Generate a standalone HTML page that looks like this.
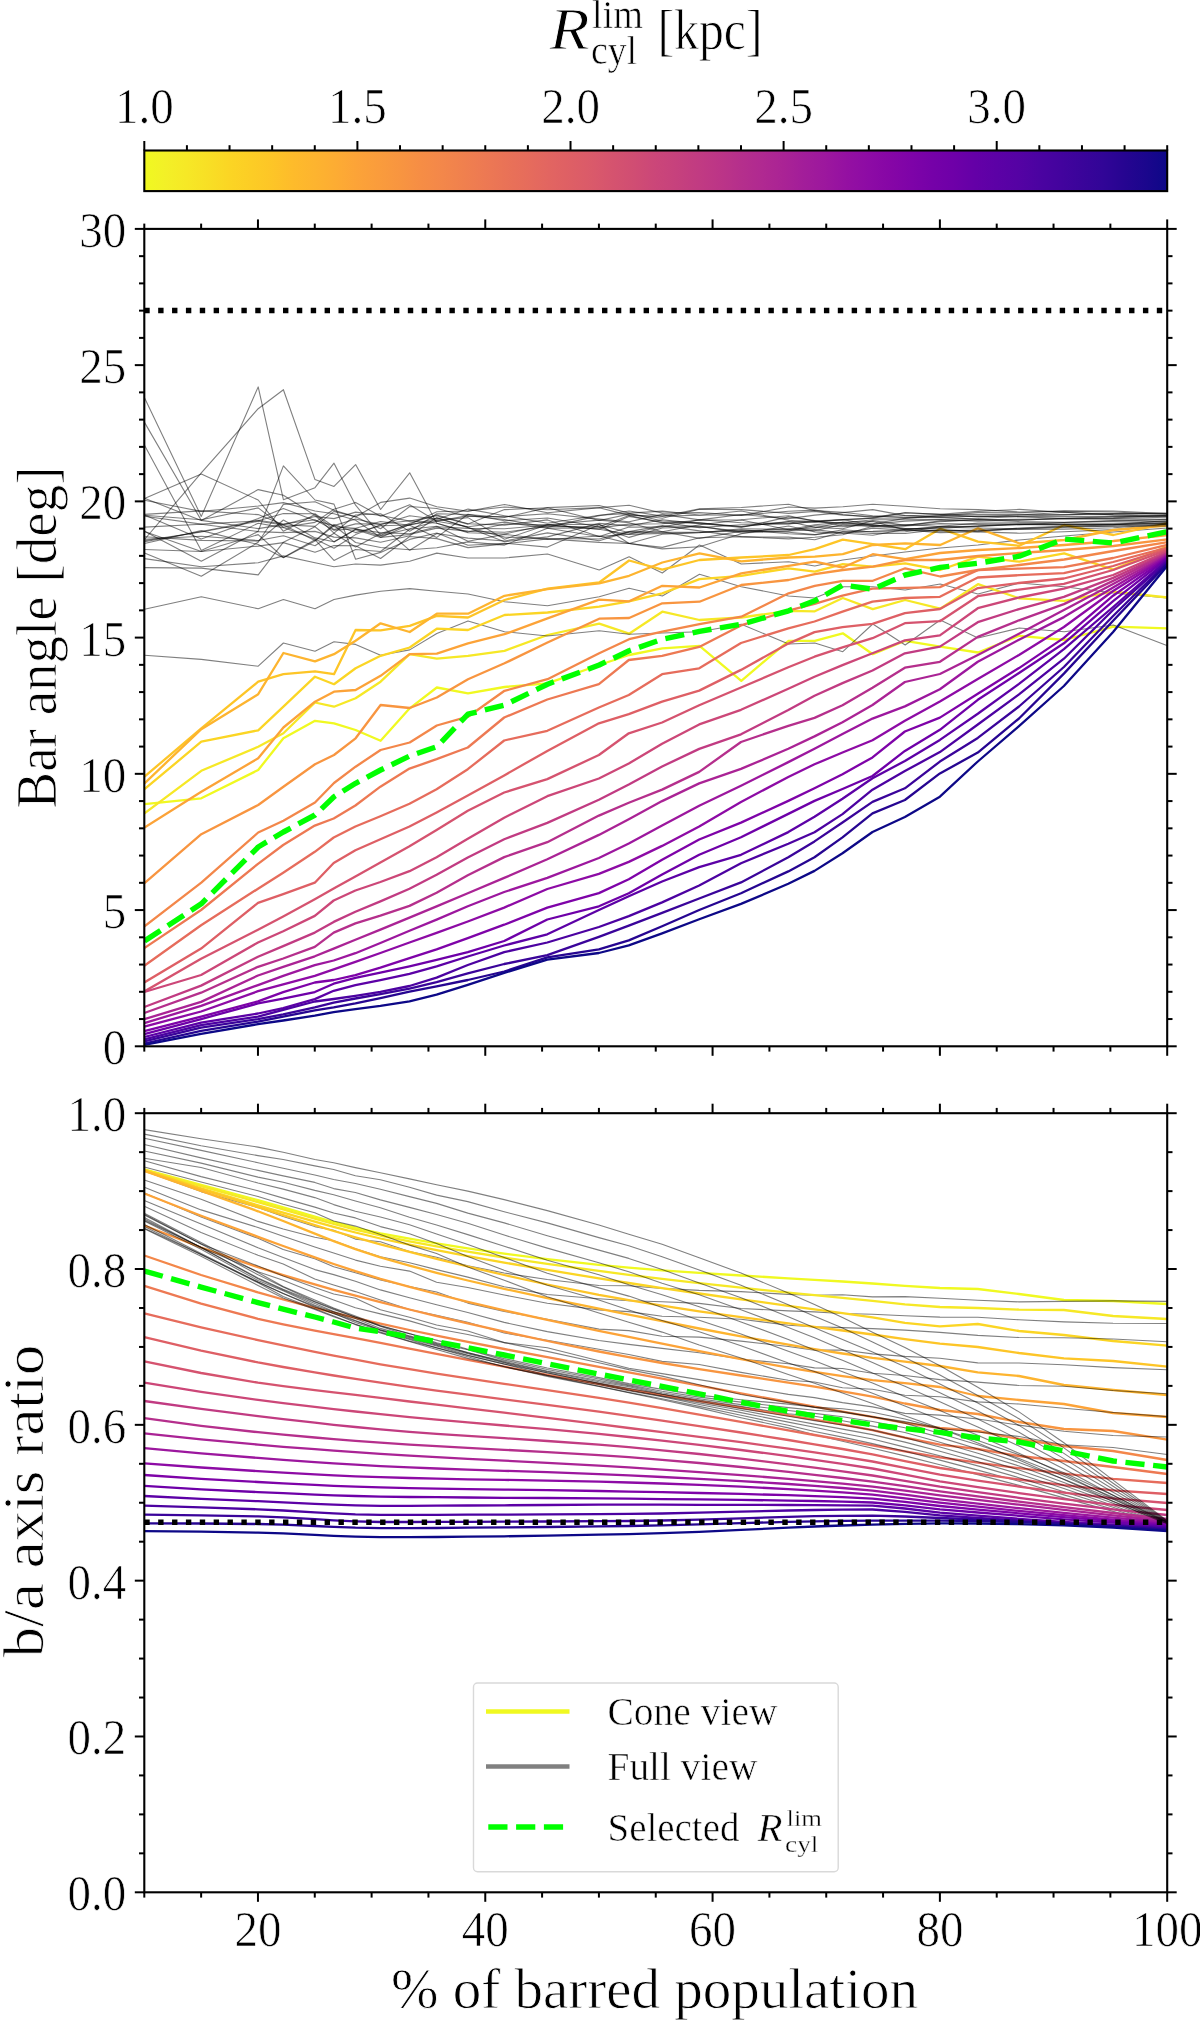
<!DOCTYPE html>
<html><head><meta charset="utf-8"><title>chart</title>
<style>html,body{margin:0;padding:0;background:#fff}svg{display:block;will-change:transform}</style></head>
<body>
<svg width="1200" height="2020" viewBox="0 0 1200 2020">
<rect width="1200" height="2020" fill="#fff"/>
<defs><linearGradient id="cb" x1="0" x2="1" y1="0" y2="0"><stop offset="0.0000" stop-color="#f0f921"/><stop offset="0.0208" stop-color="#f3f027"/><stop offset="0.0417" stop-color="#f6e826"/><stop offset="0.0625" stop-color="#f8df25"/><stop offset="0.0833" stop-color="#fbd524"/><stop offset="0.1042" stop-color="#fccd25"/><stop offset="0.1250" stop-color="#fdc527"/><stop offset="0.1458" stop-color="#febb2b"/><stop offset="0.1667" stop-color="#fdb42f"/><stop offset="0.1875" stop-color="#fdac33"/><stop offset="0.2083" stop-color="#fca338"/><stop offset="0.2292" stop-color="#fa9c3c"/><stop offset="0.2500" stop-color="#f89540"/><stop offset="0.2708" stop-color="#f68d45"/><stop offset="0.2917" stop-color="#f3874a"/><stop offset="0.3125" stop-color="#f0804e"/><stop offset="0.3333" stop-color="#ed7953"/><stop offset="0.3542" stop-color="#e97257"/><stop offset="0.3750" stop-color="#e66c5c"/><stop offset="0.3958" stop-color="#e26561"/><stop offset="0.4167" stop-color="#de5f65"/><stop offset="0.4375" stop-color="#da5a6a"/><stop offset="0.4583" stop-color="#d5536f"/><stop offset="0.4792" stop-color="#d04d73"/><stop offset="0.5000" stop-color="#cb4679"/><stop offset="0.5208" stop-color="#c6417d"/><stop offset="0.5417" stop-color="#c13b82"/><stop offset="0.5625" stop-color="#bc3587"/><stop offset="0.5833" stop-color="#b52f8c"/><stop offset="0.6042" stop-color="#b02991"/><stop offset="0.6250" stop-color="#aa2395"/><stop offset="0.6458" stop-color="#a21d9a"/><stop offset="0.6667" stop-color="#9c179e"/><stop offset="0.6875" stop-color="#9410a2"/><stop offset="0.7083" stop-color="#8d0ba5"/><stop offset="0.7292" stop-color="#8606a6"/><stop offset="0.7500" stop-color="#7e03a8"/><stop offset="0.7708" stop-color="#7501a8"/><stop offset="0.7917" stop-color="#6e00a8"/><stop offset="0.8125" stop-color="#6400a7"/><stop offset="0.8333" stop-color="#5c01a6"/><stop offset="0.8542" stop-color="#5502a4"/><stop offset="0.8750" stop-color="#4b03a1"/><stop offset="0.8958" stop-color="#43039e"/><stop offset="0.9167" stop-color="#3a049a"/><stop offset="0.9375" stop-color="#310597"/><stop offset="0.9583" stop-color="#260591"/><stop offset="0.9792" stop-color="#1b068d"/><stop offset="1.0000" stop-color="#0d0887"/></linearGradient>
<clipPath id="c1"><rect x="144.3" y="228.9" width="1022.9000000000001" height="817.4"/></clipPath>
<clipPath id="c2"><rect x="144.3" y="1113.2" width="1022.9000000000001" height="779.0999999999999"/></clipPath></defs>
<rect x="144.3" y="150.5" width="1022.9000000000001" height="40.599999999999994" fill="url(#cb)" stroke="#000" stroke-width="2.1"/>
<line x1="144.30" y1="150.50" x2="144.30" y2="141.00" stroke="#000" stroke-width="2.0"/>
<text transform="translate(144.30,123.00) scale(1.0,1.07)" font-size="47" text-anchor="middle" font-family="Liberation Serif, serif"  fill="#000" stroke="#fff" stroke-width="0.66">1.0</text>
<line x1="186.92" y1="150.50" x2="186.92" y2="145.20" stroke="#000" stroke-width="2.0"/>
<line x1="229.54" y1="150.50" x2="229.54" y2="145.20" stroke="#000" stroke-width="2.0"/>
<line x1="272.16" y1="150.50" x2="272.16" y2="145.20" stroke="#000" stroke-width="2.0"/>
<line x1="314.78" y1="150.50" x2="314.78" y2="145.20" stroke="#000" stroke-width="2.0"/>
<line x1="357.40" y1="150.50" x2="357.40" y2="141.00" stroke="#000" stroke-width="2.0"/>
<text transform="translate(357.40,123.00) scale(1.0,1.07)" font-size="47" text-anchor="middle" font-family="Liberation Serif, serif"  fill="#000" stroke="#fff" stroke-width="0.66">1.5</text>
<line x1="400.03" y1="150.50" x2="400.03" y2="145.20" stroke="#000" stroke-width="2.0"/>
<line x1="442.65" y1="150.50" x2="442.65" y2="145.20" stroke="#000" stroke-width="2.0"/>
<line x1="485.27" y1="150.50" x2="485.27" y2="145.20" stroke="#000" stroke-width="2.0"/>
<line x1="527.89" y1="150.50" x2="527.89" y2="145.20" stroke="#000" stroke-width="2.0"/>
<line x1="570.51" y1="150.50" x2="570.51" y2="141.00" stroke="#000" stroke-width="2.0"/>
<text transform="translate(570.51,123.00) scale(1.0,1.07)" font-size="47" text-anchor="middle" font-family="Liberation Serif, serif"  fill="#000" stroke="#fff" stroke-width="0.66">2.0</text>
<line x1="613.13" y1="150.50" x2="613.13" y2="145.20" stroke="#000" stroke-width="2.0"/>
<line x1="655.75" y1="150.50" x2="655.75" y2="145.20" stroke="#000" stroke-width="2.0"/>
<line x1="698.37" y1="150.50" x2="698.37" y2="145.20" stroke="#000" stroke-width="2.0"/>
<line x1="740.99" y1="150.50" x2="740.99" y2="145.20" stroke="#000" stroke-width="2.0"/>
<line x1="783.61" y1="150.50" x2="783.61" y2="141.00" stroke="#000" stroke-width="2.0"/>
<text transform="translate(783.61,123.00) scale(1.0,1.07)" font-size="47" text-anchor="middle" font-family="Liberation Serif, serif"  fill="#000" stroke="#fff" stroke-width="0.66">2.5</text>
<line x1="826.23" y1="150.50" x2="826.23" y2="145.20" stroke="#000" stroke-width="2.0"/>
<line x1="868.85" y1="150.50" x2="868.85" y2="145.20" stroke="#000" stroke-width="2.0"/>
<line x1="911.48" y1="150.50" x2="911.48" y2="145.20" stroke="#000" stroke-width="2.0"/>
<line x1="954.10" y1="150.50" x2="954.10" y2="145.20" stroke="#000" stroke-width="2.0"/>
<line x1="996.72" y1="150.50" x2="996.72" y2="141.00" stroke="#000" stroke-width="2.0"/>
<text transform="translate(996.72,123.00) scale(1.0,1.07)" font-size="47" text-anchor="middle" font-family="Liberation Serif, serif"  fill="#000" stroke="#fff" stroke-width="0.66">3.0</text>
<line x1="1039.34" y1="150.50" x2="1039.34" y2="145.20" stroke="#000" stroke-width="2.0"/>
<line x1="1081.96" y1="150.50" x2="1081.96" y2="145.20" stroke="#000" stroke-width="2.0"/>
<line x1="1124.58" y1="150.50" x2="1124.58" y2="145.20" stroke="#000" stroke-width="2.0"/>
<line x1="1167.20" y1="150.50" x2="1167.20" y2="145.20" stroke="#000" stroke-width="2.0"/>
<text transform="translate(549.5,49) scale(1.0914,1.0)" font-size="60" font-family="Liberation Serif, serif" fill="#000" stroke="#fff" stroke-width="0.84" text-anchor="start" font-style="italic">R</text><text transform="translate(592,27.5) scale(0.9562,1.0)" font-size="40" font-family="Liberation Serif, serif" fill="#000" stroke="#fff" stroke-width="0.56" text-anchor="start">lim</text><text transform="translate(591,64) scale(0.9414,1.0)" font-size="40" font-family="Liberation Serif, serif" fill="#000" stroke="#fff" stroke-width="0.56" text-anchor="start">cyl</text><text transform="translate(657.5,49) scale(0.8731,1.0)" font-size="57" font-family="Liberation Serif, serif" fill="#000" stroke="#fff" stroke-width="0.80" text-anchor="start">[kpc]</text>
<g clip-path="url(#c1)" fill="none" stroke-linejoin="round" stroke-linecap="butt">
<polyline points="144.5,804.2 201.3,798.3 258.2,770.0 283.4,738.3 315.0,720.8 334.0,723.3 355.6,730.0 380.6,740.8 409.7,708.3 436.8,687.5 468.0,693.3 504.5,687.0 547.5,683.3 599.2,665.0 629.1,655.0 662.3,648.3 699.5,645.8 741.3,680.8 788.6,640.8 814.8,640.8 842.8,633.3 872.8,654.2 905.2,640.8 940.2,646.7 978.0,652.5 1019.3,635.8 1064.2,640.0 1113.4,626.6 1167.5,628.4" stroke="#f0f921" stroke-width="2.3" />
<polyline points="144.5,609.3 201.3,596.7 258.2,608.7 283.4,599.5 315.0,608.7 334.0,599.5 355.6,595.1 380.6,591.3 409.7,588.6 436.8,591.3 468.0,594.0 504.5,601.7 547.5,605.7 599.2,596.7 629.1,588.3 662.3,596.0 699.5,574.3 741.3,586.7 788.6,596.0 814.8,598.0 842.8,586.7 872.8,586.7 905.2,590.0 940.2,584.0 978.0,594.0 1019.3,583.0 1064.2,586.7 1113.4,593.0 1167.5,598.0" stroke="#000" stroke-opacity="0.5" stroke-width="1.1"/>
<polyline points="144.5,813.3 201.3,770.8 258.2,746.7 283.4,733.3 315.0,702.5 334.0,706.7 355.6,698.3 380.6,681.7 409.7,654.2 436.8,658.7 468.0,655.8 504.5,650.8 547.5,635.0 599.2,623.7 629.1,633.7 662.3,611.7 699.5,620.0 741.3,617.5 788.6,610.8 814.8,611.3 842.8,598.0 872.8,609.2 905.2,600.0 940.2,608.7 978.0,584.2 1019.3,598.3 1064.2,600.8 1113.4,591.6 1167.5,597.5" stroke="#f6e826" stroke-width="2.3" />
<polyline points="144.5,655.3 201.3,659.4 258.2,666.2 283.4,643.0 315.0,651.2 334.0,641.7 355.6,644.4 380.6,655.3 409.7,649.9 436.8,633.5 468.0,621.0 504.5,631.7 547.5,636.0 599.2,630.7 629.1,634.3 662.3,633.0 699.5,631.7 741.3,624.3 788.6,644.0 814.8,643.0 842.8,651.7 872.8,624.0 905.2,645.0 940.2,620.0 978.0,638.0 1019.3,628.0 1064.2,631.7 1113.4,625.0 1167.5,645.7" stroke="#000" stroke-opacity="0.5" stroke-width="1.1"/>
<polyline points="144.5,789.2 201.3,741.7 258.2,730.3 283.4,706.7 315.0,676.7 334.0,684.2 355.6,668.3 380.6,655.8 409.7,647.5 436.8,628.7 468.0,630.0 504.5,615.0 547.5,612.5 599.2,606.7 629.1,601.3 662.3,593.3 699.5,579.2 741.3,575.8 788.6,568.3 814.8,571.7 842.8,564.2 872.8,566.7 905.2,563.3 940.2,570.0 978.0,556.7 1019.3,561.7 1064.2,553.3 1113.4,569.6 1167.5,546.0" stroke="#fbd524" stroke-width="2.3" />
<polyline points="144.5,558.6 201.3,566.8 258.2,562.7 283.4,555.9 315.0,562.7 334.0,566.8 355.6,564.0 380.6,565.1 409.7,561.3 436.8,553.1 468.0,558.0 504.5,558.0 547.5,554.0 599.2,570.0 629.1,556.7 662.3,573.0 699.5,545.0 741.3,564.0 788.6,561.7 814.8,566.0 842.8,560.0 872.8,556.0 905.2,552.0 940.2,548.0 978.0,545.0 1019.3,540.0 1064.2,536.0 1113.4,532.0 1167.5,528.0" stroke="#000" stroke-opacity="0.5" stroke-width="1.1"/>
<polyline points="144.5,776.7 201.3,728.3 258.2,681.7 283.4,674.2 315.0,671.3 334.0,674.2 355.6,630.0 380.6,630.3 409.7,625.8 436.8,615.8 468.0,617.5 504.5,600.0 547.5,588.7 599.2,582.5 629.1,560.5 662.3,569.7 699.5,560.0 741.3,557.5 788.6,555.0 814.8,549.2 842.8,539.7 872.8,544.2 905.2,549.2 940.2,528.7 978.0,541.7 1019.3,545.8 1064.2,525.0 1113.4,535.0 1167.5,523.0" stroke="#fdc527" stroke-width="2.3" />
<polyline points="144.5,531.6 201.3,551.5 258.2,546.1 283.4,542.6 315.0,552.2 334.0,545.6 355.6,545.8 380.6,558.5 409.7,536.5 436.8,538.6 468.0,547.6 504.5,543.9 547.5,538.9 599.2,542.4 629.1,543.5 662.3,547.4 699.5,537.7 741.3,536.8 788.6,537.1 814.8,539.8 842.8,531.7 872.8,533.5 905.2,533.5 940.2,529.4 978.0,531.9 1019.3,533.2 1064.2,531.7 1113.4,529.6 1167.5,524.5" stroke="#000" stroke-opacity="0.5" stroke-width="1.1"/>
<polyline points="144.5,783.3 201.3,729.2 258.2,694.2 283.4,653.0 315.0,661.3 334.0,654.2 355.6,640.8 380.6,623.3 409.7,632.0 436.8,613.7 468.0,613.7 504.5,595.8 547.5,589.2 599.2,583.3 629.1,575.8 662.3,562.5 699.5,553.3 741.3,561.3 788.6,557.5 814.8,556.7 842.8,554.2 872.8,545.0 905.2,543.3 940.2,545.0 978.0,528.3 1019.3,543.3 1064.2,540.0 1113.4,530.0 1167.5,525.7" stroke="#fdb42f" stroke-width="2.3" />
<polyline points="144.5,549.5 201.3,551.5 258.2,534.6 283.4,557.5 315.0,539.7 334.0,560.4 355.6,549.5 380.6,551.5 409.7,529.2 436.8,526.2 468.0,541.2 504.5,534.4 547.5,539.5 599.2,536.0 629.1,543.4 662.3,548.9 699.5,546.7 741.3,533.8 788.6,526.0 814.8,531.9 842.8,533.5 872.8,528.1 905.2,530.3 940.2,530.9 978.0,530.0 1019.3,529.5 1064.2,529.1 1113.4,527.7 1167.5,524.2" stroke="#000" stroke-opacity="0.5" stroke-width="1.1"/>
<polyline points="144.5,827.5 201.3,791.7 258.2,758.3 283.4,727.5 315.0,701.7 334.0,691.7 355.6,690.0 380.6,675.8 409.7,654.2 436.8,653.7 468.0,643.3 504.5,634.2 547.5,618.3 599.2,599.7 629.1,601.3 662.3,585.8 699.5,587.5 741.3,573.3 788.6,565.8 814.8,561.7 842.8,567.5 872.8,554.2 905.2,559.2 940.2,553.0 978.0,550.0 1019.3,548.0 1064.2,545.0 1113.4,541.0 1167.5,535.2" stroke="#fca338" stroke-width="2.3" />
<polyline points="144.5,543.5 201.3,530.6 258.2,544.5 283.4,557.8 315.0,541.1 334.0,525.5 355.6,542.5 380.6,547.5 409.7,549.7 436.8,547.8 468.0,541.9 504.5,545.1 547.5,528.2 599.2,536.5 629.1,534.1 662.3,526.3 699.5,526.1 741.3,532.9 788.6,531.0 814.8,529.6 842.8,533.0 872.8,535.3 905.2,529.4 940.2,527.1 978.0,528.0 1019.3,528.9 1064.2,527.5 1113.4,526.0 1167.5,524.2" stroke="#000" stroke-opacity="0.5" stroke-width="1.1"/>
<polyline points="144.5,883.2 201.3,834.2 258.2,805.0 283.4,786.7 315.0,764.2 334.0,755.0 355.6,738.3 380.6,705.0 409.7,708.0 436.8,697.5 468.0,679.2 504.5,663.3 547.5,642.5 599.2,618.7 629.1,618.0 662.3,603.3 699.5,601.7 741.3,585.0 788.6,580.0 814.8,574.2 842.8,570.0 872.8,566.7 905.2,560.0 940.2,560.0 978.0,556.0 1019.3,553.0 1064.2,550.0 1113.4,546.0 1167.5,539.3" stroke="#f89540" stroke-width="2.3" />
<polyline points="144.5,527.1 201.3,524.3 258.2,531.6 283.4,532.6 315.0,531.4 334.0,537.1 355.6,537.9 380.6,542.3 409.7,535.7 436.8,517.4 468.0,527.5 504.5,537.1 547.5,538.5 599.2,539.0 629.1,531.6 662.3,531.8 699.5,538.4 741.3,531.1 788.6,531.0 814.8,525.7 842.8,526.7 872.8,524.7 905.2,528.5 940.2,528.5 978.0,526.0 1019.3,524.0 1064.2,524.5 1113.4,524.8 1167.5,522.5" stroke="#000" stroke-opacity="0.5" stroke-width="1.1"/>
<polyline points="144.5,926.3 201.3,882.6 258.2,832.5 283.4,820.8 315.0,802.5 334.0,783.0 355.6,766.7 380.6,750.0 409.7,742.5 436.8,725.5 468.0,716.7 504.5,690.8 547.5,679.2 599.2,653.3 629.1,639.2 662.3,631.7 699.5,624.2 741.3,616.7 788.6,593.3 814.8,585.8 842.8,580.8 872.8,580.8 905.2,568.3 940.2,576.5 978.0,570.0 1019.3,565.0 1064.2,559.5 1113.4,551.0 1167.5,542.1" stroke="#f3874a" stroke-width="2.3" />
<polyline points="144.5,536.8 201.3,540.4 258.2,541.1 283.4,520.0 315.0,537.9 334.0,541.8 355.6,529.3 380.6,532.6 409.7,533.7 436.8,526.8 468.0,528.4 504.5,528.8 547.5,525.0 599.2,529.3 629.1,534.4 662.3,533.4 699.5,532.5 741.3,529.7 788.6,533.7 814.8,534.9 842.8,529.8 872.8,532.0 905.2,531.7 940.2,527.0 978.0,526.1 1019.3,524.5 1064.2,524.7 1113.4,524.6 1167.5,523.4" stroke="#000" stroke-opacity="0.5" stroke-width="1.1"/>
<polyline points="144.3,948.1 201.1,910.0 258.0,863.8 283.2,845.0 314.8,825.6 333.7,818.5 355.4,805.5 380.4,786.7 409.5,768.6 436.6,759.2 467.8,747.5 504.2,717.5 547.3,699.5 598.9,684.2 628.8,660.0 662.1,655.8 699.2,646.9 741.0,625.4 788.3,610.7 814.5,603.9 842.5,595.6 872.5,588.7 904.9,587.8 939.9,587.1 977.8,570.1 1019.0,568.6 1063.9,567.2 1113.1,558.0 1167.2,544.8" stroke="#ed7953" stroke-width="2.3" />
<polyline points="144.5,539.2 201.3,536.3 258.2,540.5 283.4,535.8 315.0,545.7 334.0,533.3 355.6,547.0 380.6,533.6 409.7,524.8 436.8,520.4 468.0,517.6 504.5,539.2 547.5,524.7 599.2,520.1 629.1,522.7 662.3,531.7 699.5,524.7 741.3,520.0 788.6,529.8 814.8,524.7 842.8,522.4 872.8,525.7 905.2,524.5 940.2,526.5 978.0,526.2 1019.3,524.6 1064.2,522.5 1113.4,521.1 1167.5,519.4" stroke="#000" stroke-opacity="0.5" stroke-width="1.1"/>
<polyline points="144.3,965.8 201.1,925.2 258.0,888.7 283.2,872.7 314.8,851.8 333.7,837.5 355.4,826.5 380.4,816.2 409.5,803.7 436.6,789.2 467.8,769.2 504.2,740.5 547.3,730.8 598.9,707.5 628.8,695.0 662.1,674.2 699.2,668.3 741.0,643.0 788.3,628.3 814.5,621.5 842.5,611.7 872.5,601.6 904.9,598.0 939.9,596.8 977.8,577.5 1019.0,575.2 1063.9,573.2 1113.1,562.0 1167.2,547.5" stroke="#e66c5c" stroke-width="2.3" />
<polyline points="144.5,540.6 201.3,532.0 258.2,521.3 283.4,525.0 315.0,540.6 334.0,524.4 355.6,532.6 380.6,525.7 409.7,525.0 436.8,518.2 468.0,527.4 504.5,541.7 547.5,536.9 599.2,523.4 629.1,525.9 662.3,519.7 699.5,523.6 741.3,526.7 788.6,521.5 814.8,527.4 842.8,528.7 872.8,520.6 905.2,525.4 940.2,521.7 978.0,519.8 1019.3,521.6 1064.2,522.4 1113.4,520.6 1167.5,521.6" stroke="#000" stroke-opacity="0.5" stroke-width="1.1"/>
<polyline points="144.3,982.4 201.1,948.6 258.0,902.9 283.2,894.2 314.8,882.7 333.7,863.0 355.4,850.2 380.4,839.2 409.5,826.5 436.6,812.4 467.8,795.6 504.2,775.4 547.3,750.9 598.9,723.3 628.8,714.2 662.1,701.7 699.2,690.6 741.0,669.9 788.3,643.6 814.5,632.1 842.5,627.2 872.5,623.9 904.9,613.1 939.9,609.0 977.8,588.1 1019.0,583.0 1063.9,578.5 1113.1,566.0 1167.2,548.9" stroke="#de5f65" stroke-width="2.3" />
<polyline points="144.5,541.8 201.3,531.5 258.2,520.3 283.4,524.0 315.0,519.8 334.0,530.2 355.6,528.6 380.6,535.9 409.7,528.8 436.8,521.3 468.0,526.8 504.5,522.1 547.5,528.3 599.2,527.9 629.1,524.1 662.3,523.7 699.5,520.1 741.3,519.7 788.6,515.7 814.8,521.3 842.8,523.2 872.8,524.1 905.2,521.1 940.2,519.7 978.0,521.2 1019.3,520.0 1064.2,518.7 1113.4,519.1 1167.5,519.3" stroke="#000" stroke-opacity="0.5" stroke-width="1.1"/>
<polyline points="144.3,991.4 201.1,958.7 258.0,929.8 283.2,916.5 314.8,899.3 333.7,888.6 355.4,876.5 380.4,862.6 409.5,846.3 436.6,830.0 467.8,810.8 504.2,792.5 547.3,779.1 598.9,755.0 628.8,733.3 662.1,722.5 699.2,705.2 741.0,687.5 788.3,667.2 814.5,656.7 842.5,647.4 872.5,638.2 904.9,623.2 939.9,621.2 977.8,596.2 1019.0,589.6 1063.9,583.9 1113.1,570.0 1167.2,550.2" stroke="#d5536f" stroke-width="2.3" />
<polyline points="144.5,516.2 201.3,524.1 258.2,520.8 283.4,513.5 315.0,513.8 334.0,526.7 355.6,528.2 380.6,521.5 409.7,525.3 436.8,537.4 468.0,514.3 504.5,520.7 547.5,518.0 599.2,526.7 629.1,515.5 662.3,522.9 699.5,522.9 741.3,526.5 788.6,521.9 814.8,520.8 842.8,519.9 872.8,518.2 905.2,518.0 940.2,517.1 978.0,519.4 1019.3,520.1 1064.2,518.3 1113.4,516.7 1167.5,515.8" stroke="#000" stroke-opacity="0.5" stroke-width="1.1"/>
<polyline points="144.3,992.0 201.1,975.0 258.0,942.5 283.2,931.3 314.8,915.9 333.7,900.5 355.4,890.5 380.4,882.0 409.5,871.2 436.6,857.2 467.8,838.7 504.2,817.7 547.3,796.2 598.9,778.5 628.8,763.5 662.1,743.7 699.2,724.4 741.0,709.8 788.3,688.8 814.5,676.8 842.5,665.1 872.5,653.3 904.9,640.4 939.9,635.4 977.8,608.2 1019.0,597.5 1063.9,588.6 1113.1,575.0 1167.2,551.6" stroke="#cc4778" stroke-width="2.3" />
<polyline points="144.5,515.0 201.3,539.0 258.2,518.6 283.4,508.6 315.0,520.6 334.0,525.6 355.6,519.0 380.6,524.6 409.7,515.8 436.8,519.2 468.0,509.1 504.5,515.7 547.5,523.3 599.2,515.2 629.1,513.4 662.3,521.0 699.5,522.9 741.3,527.5 788.6,516.9 814.8,520.6 842.8,525.7 872.8,523.8 905.2,518.4 940.2,515.7 978.0,516.3 1019.3,516.7 1064.2,518.5 1113.4,517.9 1167.5,515.2" stroke="#000" stroke-opacity="0.5" stroke-width="1.1"/>
<polyline points="144.3,1007.0 201.1,985.6 258.0,956.7 283.2,946.1 314.8,932.6 333.7,921.9 355.4,911.8 380.4,901.4 409.5,888.7 436.6,874.7 467.8,857.5 504.2,839.3 547.3,822.9 598.9,799.8 628.8,784.5 662.1,766.5 699.2,748.9 741.0,734.3 788.3,710.0 814.5,695.7 842.5,683.1 872.5,670.5 904.9,653.3 939.9,646.6 977.8,622.2 1019.0,609.1 1063.9,596.9 1113.1,577.9 1167.2,553.0" stroke="#c13b82" stroke-width="2.3" />
<polyline points="144.5,515.3 201.3,519.8 258.2,507.9 283.4,527.3 315.0,522.4 334.0,509.2 355.6,502.4 380.6,516.3 409.7,504.8 436.8,521.3 468.0,515.6 504.5,519.5 547.5,527.4 599.2,515.6 629.1,511.0 662.3,516.1 699.5,515.2 741.3,511.0 788.6,520.3 814.8,522.1 842.8,519.6 872.8,518.1 905.2,512.8 940.2,514.3 978.0,516.9 1019.3,515.0 1064.2,512.3 1113.4,515.0 1167.5,516.4" stroke="#000" stroke-opacity="0.5" stroke-width="1.1"/>
<polyline points="144.3,1013.0 201.1,992.7 258.0,966.8 283.2,958.5 314.8,946.8 333.7,932.6 355.4,923.4 380.4,915.7 409.5,905.9 436.6,892.7 467.8,875.2 504.2,857.1 547.3,842.2 598.9,815.6 628.8,802.8 662.1,789.6 699.2,771.9 741.0,742.0 788.3,725.8 814.5,717.9 842.5,705.3 872.5,687.8 904.9,667.7 939.9,661.8 977.8,636.9 1019.0,620.3 1063.9,604.1 1113.1,580.9 1167.2,553.8" stroke="#b52f8c" stroke-width="2.3" />
<polyline points="144.5,514.4 201.3,510.9 258.2,514.6 283.4,524.8 315.0,526.4 334.0,511.4 355.6,516.8 380.6,528.7 409.7,506.5 436.8,508.5 468.0,516.5 504.5,516.6 547.5,513.7 599.2,519.1 629.1,521.8 662.3,514.4 699.5,519.9 741.3,514.5 788.6,518.6 814.8,515.1 842.8,512.6 872.8,509.6 905.2,515.6 940.2,517.3 978.0,516.1 1019.3,516.0 1064.2,514.9 1113.4,513.6 1167.5,513.3" stroke="#000" stroke-opacity="0.5" stroke-width="1.1"/>
<polyline points="144.3,1019.2 201.1,1001.9 258.0,975.5 283.2,966.8 314.8,956.3 333.7,948.6 355.4,939.8 380.4,929.6 409.5,917.6 436.6,906.4 467.8,893.3 504.2,877.9 547.3,859.3 598.9,834.9 628.8,819.2 662.1,801.1 699.2,783.4 741.0,768.9 788.3,748.8 814.5,736.4 842.5,722.2 872.5,705.0 904.9,682.0 939.9,674.0 977.8,655.0 1019.0,633.7 1063.9,610.0 1113.1,583.9 1167.2,554.9" stroke="#aa2395" stroke-width="2.3" />
<polyline points="144.5,498.3 201.3,520.6 258.2,489.6 283.4,495.2 315.0,515.4 334.0,533.2 355.6,515.0 380.6,513.7 409.7,531.4 436.8,513.7 468.0,514.5 504.5,517.5 547.5,507.6 599.2,505.5 629.1,513.1 662.3,511.1 699.5,515.0 741.3,515.2 788.6,511.3 814.8,510.1 842.8,514.5 872.8,517.4 905.2,512.8 940.2,514.4 978.0,511.4 1019.3,509.4 1064.2,512.2 1113.4,514.6 1167.5,515.3" stroke="#000" stroke-opacity="0.5" stroke-width="1.1"/>
<polyline points="144.3,1023.1 201.1,1005.9 258.0,985.1 283.2,975.8 314.8,965.2 333.7,960.5 355.4,953.2 380.4,943.0 409.5,930.8 436.6,919.6 467.8,906.3 504.2,892.0 547.3,877.9 598.9,858.0 628.8,843.5 662.1,825.4 699.2,805.7 741.0,785.7 788.3,762.1 814.5,748.8 842.5,734.0 872.5,718.6 904.9,706.4 939.9,689.2 977.8,661.7 1019.0,639.7 1063.9,617.1 1113.1,587.4 1167.2,555.7" stroke="#9c179e" stroke-width="2.3" />
<polyline points="144.5,500.3 201.3,511.4 258.2,506.0 283.4,502.6 315.0,511.0 334.0,513.8 355.6,520.2 380.6,537.4 409.7,524.5 436.8,511.8 468.0,511.0 504.5,507.0 547.5,509.8 599.2,507.6 629.1,505.2 662.3,513.1 699.5,512.6 741.3,515.4 788.6,507.0 814.8,508.1 842.8,506.8 872.8,504.3 905.2,506.2 940.2,508.7 978.0,509.6 1019.3,512.0 1064.2,511.2 1113.4,512.0 1167.5,514.5" stroke="#000" stroke-opacity="0.5" stroke-width="1.1"/>
<polyline points="144.3,1026.6 201.1,1011.5 258.0,991.2 283.2,984.3 314.8,975.9 333.7,969.4 355.4,961.8 380.4,953.0 409.5,942.5 436.6,932.8 467.8,921.5 504.2,907.6 547.3,889.0 598.9,873.9 628.8,861.9 662.1,845.9 699.2,826.4 741.0,801.9 788.3,777.0 814.5,764.3 842.5,752.5 872.5,740.2 904.9,720.8 939.9,701.4 977.8,679.0 1019.0,654.9 1063.9,627.0 1113.1,591.0 1167.2,556.8" stroke="#8d0ba5" stroke-width="2.3" />
<polyline points="144.5,397.8 201.3,516.4 258.2,386.9 283.4,499.7 315.0,487.7 334.0,463.2 355.6,505.2 380.6,535.2 409.7,523.2 436.8,515.0 468.0,523.8 504.5,525.1 547.5,519.9 599.2,536.6 629.1,527.1 662.3,527.0 699.5,519.7 741.3,522.8 788.6,523.6 814.8,521.8 842.8,523.0 872.8,519.7 905.2,519.8 940.2,519.4 978.0,518.5 1019.3,516.5 1064.2,516.6 1113.4,516.4 1167.5,516.2" stroke="#000" stroke-opacity="0.5" stroke-width="1.1"/>
<polyline points="144.3,1031.2 201.1,1016.6 258.0,1001.3 283.2,992.2 314.8,982.5 333.7,980.0 355.4,975.2 380.4,967.7 409.5,958.2 436.6,949.3 467.8,938.2 504.2,924.7 547.3,907.6 598.9,893.1 628.8,879.2 662.1,859.7 699.2,839.5 741.0,822.6 788.3,800.9 814.5,788.2 842.5,774.2 872.5,757.4 904.9,731.5 939.9,717.6 977.8,693.7 1019.0,668.1 1063.9,637.9 1113.1,595.7 1167.2,557.6" stroke="#7e03a8" stroke-width="2.3" />
<polyline points="144.5,539.5 201.3,472.8 258.2,408.7 283.4,389.7 315.0,479.6 334.0,486.4 355.6,464.6 380.6,509.5 409.7,472.8 436.8,523.2 468.0,532.0 504.5,524.0 547.5,524.8 599.2,524.2 629.1,543.5 662.3,534.3 699.5,532.7 741.3,528.7 788.6,529.4 814.8,527.9 842.8,522.3 872.8,521.5 905.2,529.9 940.2,526.3 978.0,523.1 1019.3,522.9 1064.2,523.3 1113.4,523.2 1167.5,521.8" stroke="#000" stroke-opacity="0.5" stroke-width="1.1"/>
<polyline points="144.3,1034.2 201.1,1019.1 258.0,1003.4 283.2,998.7 314.8,992.0 333.7,983.7 355.4,977.8 380.4,972.5 409.5,966.3 436.6,959.9 467.8,952.2 504.2,941.0 547.3,919.5 598.9,906.3 628.8,893.3 662.1,874.6 699.2,854.8 741.0,837.2 788.3,813.9 814.5,800.9 842.5,789.0 872.5,776.0 904.9,750.9 939.9,729.8 977.8,699.8 1019.0,673.0 1063.9,643.3 1113.1,601.1 1167.2,558.4" stroke="#6e00a8" stroke-width="2.3" />
<polyline points="144.5,422.4 201.3,520.4 258.2,528.6 283.4,524.6 315.0,516.5 334.0,518.6 355.6,512.1 380.6,515.5 409.7,521.1 436.8,515.7 468.0,524.1 504.5,509.6 547.5,507.7 599.2,520.5 629.1,514.1 662.3,518.3 699.5,509.2 741.3,509.6 788.6,513.4 814.8,511.4 842.8,515.1 872.8,516.5 905.2,515.8 940.2,514.8 978.0,514.5 1019.3,514.4 1064.2,514.6 1113.4,513.6 1167.5,513.3" stroke="#000" stroke-opacity="0.5" stroke-width="1.1"/>
<polyline points="144.3,1037.0 201.1,1022.7 258.0,1013.5 283.2,1008.1 314.8,999.1 333.7,990.8 355.4,985.1 380.4,980.1 409.5,973.9 436.6,966.3 467.8,956.5 504.2,945.5 547.3,934.3 598.9,910.0 628.8,896.3 662.1,881.5 699.2,867.1 741.0,854.8 788.3,832.1 814.5,816.8 842.5,798.8 872.5,778.2 904.9,761.0 939.9,739.9 977.8,713.8 1019.0,683.9 1063.9,649.2 1113.1,607.0 1167.2,559.8" stroke="#5c01a6" stroke-width="2.3" />
<polyline points="144.5,445.2 201.3,550.4 258.2,523.2 283.4,527.6 315.0,539.0 334.0,548.3 355.6,534.6 380.6,524.8 409.7,550.3 436.8,533.5 468.0,538.1 504.5,541.0 547.5,532.9 599.2,540.8 629.1,531.6 662.3,525.6 699.5,530.9 741.3,536.6 788.6,538.9 814.8,537.3 842.8,534.8 872.8,526.3 905.2,528.6 940.2,530.9 978.0,530.6 1019.3,528.6 1064.2,526.7 1113.4,524.6 1167.5,520.5" stroke="#000" stroke-opacity="0.5" stroke-width="1.1"/>
<polyline points="144.3,1039.4 201.1,1025.2 258.0,1016.6 283.2,1009.8 314.8,1001.5 333.7,999.0 355.4,995.8 380.4,991.8 409.5,986.0 436.6,977.6 467.8,965.0 504.2,952.1 547.3,942.5 598.9,927.0 628.8,916.1 662.1,902.4 699.2,885.5 741.0,863.2 788.3,843.7 814.5,832.2 842.5,814.1 872.5,789.7 904.9,771.0 939.9,752.1 977.8,724.5 1019.0,694.4 1063.9,658.7 1113.1,610.0 1167.2,561.2" stroke="#4c02a1" stroke-width="2.3" />
<polyline points="144.5,498.6 201.3,474.1 258.2,500.0 283.4,531.3 315.0,514.4 334.0,529.6 355.6,523.9 380.6,524.0 409.7,520.8 436.8,523.3 468.0,532.7 504.5,534.0 547.5,524.8 599.2,529.2 629.1,516.4 662.3,522.3 699.5,527.6 741.3,524.8 788.6,523.9 814.8,521.5 842.8,519.5 872.8,525.4 905.2,525.6 940.2,520.9 978.0,519.9 1019.3,519.2 1064.2,518.7 1113.4,518.4 1167.5,517.3" stroke="#000" stroke-opacity="0.5" stroke-width="1.1"/>
<polyline points="144.3,1041.3 201.1,1027.7 258.0,1019.1 283.2,1014.3 314.8,1007.4 333.7,1002.7 355.4,998.5 380.4,994.2 409.5,988.7 436.6,982.1 467.8,973.4 504.2,964.0 547.3,955.1 598.9,936.8 628.8,925.6 662.1,912.9 699.2,898.5 741.0,882.4 788.3,857.3 814.5,841.4 842.5,822.5 872.5,801.9 904.9,788.3 939.9,761.6 977.8,737.9 1019.0,706.5 1063.9,667.0 1113.1,616.0 1167.2,562.5" stroke="#3a049a" stroke-width="2.3" />
<polyline points="144.5,531.3 201.3,561.3 258.2,531.3 283.4,465.9 315.0,500.0 334.0,504.1 355.6,559.2 380.6,552.4 409.7,539.4 436.8,533.0 468.0,545.3 504.5,543.2 547.5,547.1 599.2,524.7 629.1,532.8 662.3,532.2 699.5,532.2 741.3,531.0 788.6,532.3 814.8,534.5 842.8,531.8 872.8,531.4 905.2,529.9 940.2,532.6 978.0,531.6 1019.3,528.0 1064.2,526.1 1113.4,526.2 1167.5,525.9" stroke="#000" stroke-opacity="0.5" stroke-width="1.1"/>
<polyline points="144.3,1043.5 201.1,1030.8 258.0,1021.6 283.2,1016.6 314.8,1010.4 333.7,1007.4 355.4,1003.3 380.4,998.0 409.5,991.7 436.6,986.3 467.8,980.0 504.2,971.5 547.3,957.3 598.9,949.4 628.8,940.4 662.1,926.3 699.2,910.0 741.0,893.2 788.3,871.4 814.5,857.3 842.5,837.4 872.5,813.4 904.9,800.0 939.9,773.4 977.8,752.6 1019.0,718.5 1063.9,673.6 1113.1,620.7 1167.2,563.9" stroke="#260591" stroke-width="2.3" />
<polyline points="144.5,553.1 201.3,576.3 258.2,542.2 283.4,504.4 315.0,501.7 334.0,510.2 355.6,516.9 380.6,502.4 409.7,498.1 436.8,506.7 468.0,511.2 504.5,504.5 547.5,512.7 599.2,507.7 629.1,515.4 662.3,516.2 699.5,508.9 741.3,507.5 788.6,504.2 814.8,510.6 842.8,512.3 872.8,515.7 905.2,517.6 940.2,515.9 978.0,512.6 1019.3,512.8 1064.2,510.8 1113.4,511.0 1167.5,513.6" stroke="#000" stroke-opacity="0.5" stroke-width="1.1"/>
<polyline points="144.3,1044.9 201.1,1033.8 258.0,1024.2 283.2,1020.5 314.8,1015.7 333.7,1012.2 355.4,1009.1 380.4,1005.9 409.5,1001.3 436.6,994.7 467.8,984.8 504.2,972.9 547.3,959.6 598.9,953.0 628.8,945.4 662.1,933.4 699.2,919.3 741.0,903.9 788.3,883.8 814.5,870.9 842.5,853.3 872.5,832.0 904.9,817.0 939.9,796.7 977.8,761.5 1019.0,726.2 1063.9,686.0 1113.1,632.0 1167.2,565.8" stroke="#0d0887" stroke-width="2.3" />
<polyline points="144.5,567.6 201.3,568.1 258.2,574.9 283.4,542.2 315.0,526.8 334.0,541.9 355.6,529.6 380.6,537.4 409.7,534.5 436.8,528.1 468.0,531.1 504.5,532.2 547.5,526.4 599.2,526.9 629.1,537.4 662.3,528.0 699.5,526.7 741.3,531.4 788.6,528.7 814.8,530.8 842.8,524.4 872.8,526.6 905.2,526.0 940.2,523.6 978.0,524.4 1019.3,524.2 1064.2,524.9 1113.4,524.3 1167.5,523.5" stroke="#000" stroke-opacity="0.5" stroke-width="1.1"/>
<polyline points="144.5,941.0 201.3,903.8 258.2,847.0 283.4,832.0 315.0,815.0 334.0,796.7 355.6,783.3 380.6,770.0 409.7,756.0 436.8,746.7 468.0,714.2 504.5,705.0 547.5,684.2 599.2,665.0 629.1,650.8 662.3,639.2 699.5,631.3 741.3,624.2 788.6,610.8 814.8,600.8 842.8,585.0 872.8,589.2 905.2,575.0 940.2,567.4 978.0,563.3 1019.3,556.2 1064.2,539.0 1113.4,543.0 1167.5,531.6" stroke="#00ff00" stroke-width="5.4" stroke-dasharray="19.2 8.6"/>
<line x1="144.3" y1="310.6" x2="1167.2" y2="310.6" stroke="#000" stroke-width="5.5" stroke-dasharray="5.4 8.47"/>
</g>
<g clip-path="url(#c2)" fill="none" stroke-linejoin="round" stroke-linecap="butt">
<polyline points="144.3,1169.4 201.1,1184.8 258.0,1200.2 283.2,1207.3 314.8,1216.6 333.7,1222.1 355.4,1227.8 380.4,1233.3 409.5,1238.7 436.6,1243.3 467.8,1248.3 504.2,1253.6 547.3,1259.1 598.9,1264.8 628.8,1267.6 662.1,1270.3 699.2,1272.9 741.0,1275.5 788.3,1278.3 814.5,1279.8 842.5,1281.5 872.5,1283.5 904.9,1285.9 939.9,1288.0 977.8,1289.0 1019.0,1294.0 1063.9,1300.0 1113.1,1301.0 1167.2,1304.0" stroke="#f0f921" stroke-width="2.3" />
<polyline points="144.3,1171.0 201.1,1191.6 258.0,1207.6 283.2,1216.4 314.8,1226.6 333.7,1230.3 355.4,1239.1 380.4,1241.7 409.5,1251.6 436.6,1257.3 467.8,1265.7 504.2,1273.0 547.3,1279.5 598.9,1285.5 628.8,1285.7 662.1,1288.4 699.2,1290.4 741.0,1291.6 788.3,1294.4 814.5,1295.3 842.5,1294.7 872.5,1296.9 904.9,1296.6 939.9,1298.2 977.8,1300.3 1019.0,1301.9 1063.9,1301.4 1113.1,1300.9 1167.2,1301.4" stroke="#000" stroke-opacity="0.5" stroke-width="1.1"/>
<polyline points="144.3,1169.8 201.1,1186.2 258.0,1202.2 283.2,1209.4 314.8,1218.6 333.7,1224.0 355.4,1229.7 380.4,1235.5 409.5,1241.3 436.6,1246.3 467.8,1251.7 504.2,1257.5 547.3,1263.9 598.9,1270.9 628.8,1274.8 662.1,1278.9 699.2,1283.2 741.0,1287.7 788.3,1292.6 814.5,1295.2 842.5,1297.9 872.5,1300.9 904.9,1304.3 939.9,1307.0 977.8,1308.0 1019.0,1309.6 1063.9,1310.0 1113.1,1316.0 1167.2,1319.0" stroke="#f6e826" stroke-width="2.3" />
<polyline points="144.3,1180.0 201.1,1199.2 258.0,1221.4 283.2,1229.0 314.8,1237.3 333.7,1240.8 355.4,1248.7 380.4,1256.8 409.5,1262.7 436.6,1269.6 467.8,1277.1 504.2,1286.7 547.3,1294.5 598.9,1298.7 628.8,1300.7 662.1,1301.7 699.2,1303.4 741.0,1308.5 788.3,1310.9 814.5,1311.9 842.5,1313.5 872.5,1314.3 904.9,1315.7 939.9,1317.1 977.8,1317.2 1019.0,1319.8 1063.9,1321.9 1113.1,1323.3 1167.2,1323.5" stroke="#000" stroke-opacity="0.5" stroke-width="1.1"/>
<polyline points="144.3,1170.2 201.1,1188.3 258.0,1205.3 283.2,1212.6 314.8,1221.6 333.7,1226.9 355.4,1232.5 380.4,1238.5 409.5,1244.7 436.6,1250.2 467.8,1256.1 504.2,1262.6 547.3,1269.9 598.9,1278.3 628.8,1283.0 662.1,1288.1 699.2,1293.5 741.0,1299.3 788.3,1305.8 814.5,1309.3 842.5,1313.1 872.5,1317.3 904.9,1322.9 939.9,1326.4 977.8,1324.0 1019.0,1331.0 1063.9,1335.0 1113.1,1341.0 1167.2,1345.6" stroke="#fbd524" stroke-width="2.3" />
<polyline points="144.3,1187.2 201.1,1209.9 258.0,1227.5 283.2,1236.3 314.8,1246.9 333.7,1253.1 355.4,1260.1 380.4,1266.3 409.5,1271.1 436.6,1282.2 467.8,1287.5 504.2,1295.0 547.3,1303.3 598.9,1309.9 628.8,1311.6 662.1,1316.3 699.2,1317.3 741.0,1319.3 788.3,1325.2 814.5,1326.7 842.5,1327.6 872.5,1328.6 904.9,1330.1 939.9,1332.4 977.8,1335.4 1019.0,1337.5 1063.9,1337.7 1113.1,1339.0 1167.2,1341.7" stroke="#000" stroke-opacity="0.5" stroke-width="1.1"/>
<polyline points="144.3,1170.6 201.1,1189.2 258.0,1207.2 283.2,1215.2 314.8,1225.1 333.7,1231.0 355.4,1237.4 380.4,1244.4 409.5,1251.9 436.6,1258.8 467.8,1266.5 504.2,1275.0 547.3,1284.5 598.9,1294.9 628.8,1300.2 662.1,1305.7 699.2,1311.3 741.0,1317.1 788.3,1323.4 814.5,1326.8 842.5,1330.5 872.5,1334.5 904.9,1339.2 939.9,1343.6 977.8,1347.0 1019.0,1353.0 1063.9,1358.4 1113.1,1361.0 1167.2,1366.6" stroke="#fdc527" stroke-width="2.3" />
<polyline points="144.3,1193.1 201.1,1216.9 258.0,1238.3 283.2,1249.5 314.8,1258.8 333.7,1266.7 355.4,1272.8 380.4,1279.9 409.5,1286.5 436.6,1292.0 467.8,1303.1 504.2,1311.4 547.3,1319.3 598.9,1329.1 628.8,1330.6 662.1,1336.3 699.2,1337.1 741.0,1341.1 788.3,1346.5 814.5,1350.1 842.5,1350.0 872.5,1353.9 904.9,1356.4 939.9,1358.3 977.8,1362.9 1019.0,1363.0 1063.9,1364.7 1113.1,1367.6 1167.2,1369.8" stroke="#000" stroke-opacity="0.5" stroke-width="1.1"/>
<polyline points="144.3,1171.0 201.1,1190.9 258.0,1211.3 283.2,1221.0 314.8,1233.6 333.7,1241.1 355.4,1249.2 380.4,1257.4 409.5,1265.6 436.6,1272.8 467.8,1280.5 504.2,1288.8 547.3,1298.1 598.9,1308.6 628.8,1314.6 662.1,1321.2 699.2,1328.5 741.0,1336.3 788.3,1344.7 814.5,1349.1 842.5,1353.5 872.5,1357.8 904.9,1361.7 939.9,1366.0 977.8,1372.4 1019.0,1376.0 1063.9,1385.0 1113.1,1390.0 1167.2,1395.0" stroke="#fdb42f" stroke-width="2.3" />
<polyline points="144.3,1200.4 201.1,1224.1 258.0,1247.8 283.2,1257.6 314.8,1269.6 333.7,1274.6 355.4,1281.3 380.4,1289.9 409.5,1297.8 436.6,1304.7 467.8,1312.5 504.2,1322.4 547.3,1331.6 598.9,1340.5 628.8,1344.4 662.1,1348.4 699.2,1352.7 741.0,1359.0 788.3,1363.8 814.5,1367.9 842.5,1368.5 872.5,1373.2 904.9,1375.5 939.9,1379.6 977.8,1382.1 1019.0,1385.5 1063.9,1386.2 1113.1,1390.5 1167.2,1393.8" stroke="#000" stroke-opacity="0.5" stroke-width="1.1"/>
<polyline points="144.3,1193.5 201.1,1215.7 258.0,1236.8 283.2,1246.0 314.8,1257.4 333.7,1264.0 355.4,1271.2 380.4,1278.8 409.5,1286.9 436.6,1294.0 467.8,1301.8 504.2,1310.4 547.3,1319.9 598.9,1330.8 628.8,1336.9 662.1,1343.6 699.2,1351.1 741.0,1359.1 788.3,1367.6 814.5,1371.9 842.5,1376.1 872.5,1380.1 904.9,1383.1 939.9,1387.0 977.8,1396.0 1019.0,1400.0 1063.9,1404.0 1113.1,1413.0 1167.2,1417.0" stroke="#fca338" stroke-width="2.3" />
<polyline points="144.3,1206.2 201.1,1232.4 258.0,1255.3 283.2,1264.1 314.8,1279.0 333.7,1285.1 355.4,1291.6 380.4,1300.0 409.5,1309.6 436.6,1315.2 467.8,1322.3 504.2,1333.0 547.3,1340.2 598.9,1349.3 628.8,1354.5 662.1,1361.4 699.2,1364.5 741.0,1372.4 788.3,1380.3 814.5,1382.0 842.5,1387.7 872.5,1389.3 904.9,1395.2 939.9,1396.8 977.8,1401.9 1019.0,1404.0 1063.9,1408.3 1113.1,1412.5 1167.2,1416.6" stroke="#000" stroke-opacity="0.5" stroke-width="1.1"/>
<polyline points="144.3,1225.5 201.1,1247.5 258.0,1267.1 283.2,1275.1 314.8,1284.4 333.7,1289.8 355.4,1295.7 380.4,1302.2 409.5,1309.5 436.6,1316.1 467.8,1323.4 504.2,1331.7 547.3,1341.0 598.9,1351.5 628.8,1357.2 662.1,1363.0 699.2,1369.1 741.0,1375.5 788.3,1382.6 814.5,1386.7 842.5,1391.3 872.5,1396.6 904.9,1403.5 939.9,1410.0 977.8,1414.0 1019.0,1422.0 1063.9,1429.0 1113.1,1431.0 1167.2,1439.6" stroke="#f89540" stroke-width="2.3" />
<polyline points="144.3,1214.3 201.1,1244.0 258.0,1266.0 283.2,1276.0 314.8,1287.6 333.7,1294.0 355.4,1298.3 380.4,1309.7 409.5,1317.3 436.6,1325.0 467.8,1331.0 504.2,1342.6 547.3,1347.7 598.9,1360.7 628.8,1368.3 662.1,1373.6 699.2,1379.6 741.0,1386.5 788.3,1394.4 814.5,1397.6 842.5,1402.6 872.5,1406.9 904.9,1413.4 939.9,1415.1 977.8,1419.0 1019.0,1425.1 1063.9,1431.3 1113.1,1435.5 1167.2,1437.0" stroke="#000" stroke-opacity="0.5" stroke-width="1.1"/>
<polyline points="144.3,1255.5 201.1,1275.0 258.0,1292.4 283.2,1299.5 314.8,1307.8 333.7,1312.6 355.4,1317.8 380.4,1323.6 409.5,1330.0 436.6,1335.6 467.8,1341.9 504.2,1349.0 547.3,1357.1 598.9,1366.8 628.8,1372.4 662.1,1378.7 699.2,1385.6 741.0,1393.4 788.3,1402.0 814.5,1406.7 842.5,1411.6 872.5,1416.9 904.9,1422.8 939.9,1428.0 977.8,1431.0 1019.0,1439.0 1063.9,1446.0 1113.1,1451.0 1167.2,1460.0" stroke="#f3874a" stroke-width="2.3" />
<polyline points="144.3,1220.3 201.1,1247.2 258.0,1271.7 283.2,1280.2 314.8,1293.1 333.7,1299.9 355.4,1307.7 380.4,1313.9 409.5,1320.9 436.6,1328.7 467.8,1334.5 504.2,1342.6 547.3,1351.4 598.9,1362.7 628.8,1369.6 662.1,1376.1 699.2,1384.8 741.0,1394.5 788.3,1402.6 814.5,1407.4 842.5,1411.6 872.5,1416.9 904.9,1421.6 939.9,1428.7 977.8,1432.0 1019.0,1436.5 1063.9,1444.8 1113.1,1447.5 1167.2,1454.5" stroke="#000" stroke-opacity="0.5" stroke-width="1.1"/>
<polyline points="144.3,1285.8 201.1,1303.7 258.0,1318.8 283.2,1324.4 314.8,1330.7 333.7,1334.2 355.4,1338.2 380.4,1342.9 409.5,1348.6 436.6,1353.8 467.8,1359.8 504.2,1366.7 547.3,1374.8 598.9,1384.2 628.8,1389.5 662.1,1395.2 699.2,1401.2 741.0,1407.7 788.3,1415.3 814.5,1419.6 842.5,1424.5 872.5,1430.2 904.9,1437.6 939.9,1444.7 977.8,1449.0 1019.0,1456.0 1063.9,1461.0 1113.1,1467.0 1167.2,1474.0" stroke="#ed7953" stroke-width="2.3" />
<polyline points="144.3,1228.8 201.1,1256.3 258.0,1285.5 283.2,1298.1 314.8,1309.6 333.7,1316.7 355.4,1324.2 380.4,1332.9 409.5,1341.5 436.6,1349.5 467.8,1358.4 504.2,1366.5 547.3,1376.4 598.9,1386.4 628.8,1392.8 662.1,1399.8 699.2,1407.9 741.0,1417.7 788.3,1427.9 814.5,1434.7 842.5,1441.3 872.5,1448.3 904.9,1455.9 939.9,1464.8 977.8,1474.6 1019.0,1485.4 1063.9,1497.9 1113.1,1511.4 1167.2,1527.2" stroke="#000" stroke-opacity="0.5" stroke-width="1.1"/>
<polyline points="144.3,1313.3 201.1,1327.3 258.0,1340.1 283.2,1345.4 314.8,1351.9 333.7,1355.6 355.4,1359.7 380.4,1364.3 409.5,1369.2 436.6,1373.6 467.8,1378.4 504.2,1383.8 547.3,1390.1 598.9,1397.9 628.8,1402.7 662.1,1408.2 699.2,1414.6 741.0,1421.9 788.3,1430.3 814.5,1435.0 842.5,1439.9 872.5,1445.3 904.9,1451.4 939.9,1457.3 977.8,1462.7 1019.0,1468.2 1063.9,1473.6 1113.1,1478.8 1167.2,1483.0" stroke="#e66c5c" stroke-width="2.3" />
<polyline points="144.3,1228.3 201.1,1254.4 258.0,1282.8 283.2,1296.4 314.8,1308.7 333.7,1315.9 355.4,1324.6 380.4,1332.1 409.5,1341.1 436.6,1347.7 467.8,1356.8 504.2,1366.8 547.3,1375.5 598.9,1386.2 628.8,1392.4 662.1,1398.7 699.2,1406.4 741.0,1415.3 788.3,1425.3 814.5,1431.5 842.5,1437.1 872.5,1443.6 904.9,1451.3 939.9,1460.1 977.8,1470.1 1019.0,1481.3 1063.9,1494.9 1113.1,1509.3 1167.2,1526.5" stroke="#000" stroke-opacity="0.5" stroke-width="1.1"/>
<polyline points="144.3,1337.1 201.1,1350.6 258.0,1362.4 283.2,1367.0 314.8,1372.4 333.7,1375.5 355.4,1378.9 380.4,1382.6 409.5,1386.9 436.6,1390.6 467.8,1394.7 504.2,1399.3 547.3,1404.8 598.9,1411.6 628.8,1415.8 662.1,1420.7 699.2,1426.2 741.0,1432.5 788.3,1440.0 814.5,1444.3 842.5,1449.0 872.5,1454.4 904.9,1461.2 939.9,1468.0 977.8,1473.7 1019.0,1479.5 1063.9,1485.2 1113.1,1490.3 1167.2,1494.0" stroke="#de5f65" stroke-width="2.3" />
<polyline points="144.3,1226.4 201.1,1254.6 258.0,1282.0 283.2,1293.4 314.8,1307.2 333.7,1313.2 355.4,1322.5 380.4,1330.5 409.5,1339.5 436.6,1347.9 467.8,1355.5 504.2,1364.0 547.3,1375.3 598.9,1384.5 628.8,1390.7 662.1,1396.6 699.2,1404.5 741.0,1412.6 788.3,1422.1 814.5,1427.3 842.5,1433.3 872.5,1439.0 904.9,1447.1 939.9,1455.7 977.8,1465.9 1019.0,1477.7 1063.9,1491.7 1113.1,1507.3 1167.2,1525.9" stroke="#000" stroke-opacity="0.5" stroke-width="1.1"/>
<polyline points="144.3,1361.3 201.1,1373.0 258.0,1382.7 283.2,1386.2 314.8,1390.2 333.7,1392.4 355.4,1394.9 380.4,1397.9 409.5,1401.5 436.6,1404.7 467.8,1408.4 504.2,1412.7 547.3,1417.9 598.9,1424.2 628.8,1428.0 662.1,1432.2 699.2,1436.9 741.0,1442.2 788.3,1448.6 814.5,1452.3 842.5,1456.6 872.5,1461.5 904.9,1467.9 939.9,1474.7 977.8,1480.6 1019.0,1486.6 1063.9,1492.7 1113.1,1498.3 1167.2,1503.0" stroke="#d5536f" stroke-width="2.3" />
<polyline points="144.3,1224.5 201.1,1253.6 258.0,1282.0 283.2,1293.4 314.8,1306.3 333.7,1313.8 355.4,1320.9 380.4,1330.0 409.5,1338.6 436.6,1346.0 467.8,1355.2 504.2,1364.1 547.3,1372.7 598.9,1383.5 628.8,1390.0 662.1,1396.1 699.2,1402.9 741.0,1410.3 788.3,1419.3 814.5,1424.1 842.5,1429.1 872.5,1434.6 904.9,1442.1 939.9,1451.3 977.8,1461.8 1019.0,1473.9 1063.9,1488.5 1113.1,1505.4 1167.2,1525.3" stroke="#000" stroke-opacity="0.5" stroke-width="1.1"/>
<polyline points="144.3,1382.7 201.1,1391.8 258.0,1399.9 283.2,1403.1 314.8,1406.9 333.7,1409.1 355.4,1411.5 380.4,1414.1 409.5,1417.1 436.6,1419.6 467.8,1422.3 504.2,1425.5 547.3,1429.2 598.9,1433.9 628.8,1437.0 662.1,1440.7 699.2,1444.9 741.0,1450.0 788.3,1456.1 814.5,1459.8 842.5,1463.9 872.5,1468.5 904.9,1474.7 939.9,1481.3 977.8,1487.1 1019.0,1493.1 1063.9,1499.2 1113.1,1504.9 1167.2,1510.0" stroke="#cc4778" stroke-width="2.3" />
<polyline points="144.3,1221.0 201.1,1249.3 258.0,1280.5 283.2,1290.8 314.8,1305.3 333.7,1311.9 355.4,1320.5 380.4,1329.7 409.5,1337.5 436.6,1345.2 467.8,1353.8 504.2,1362.8 547.3,1373.0 598.9,1383.1 628.8,1388.4 662.1,1394.2 699.2,1401.3 741.0,1408.6 788.3,1416.2 814.5,1420.6 842.5,1425.0 872.5,1430.1 904.9,1437.6 939.9,1447.0 977.8,1457.6 1019.0,1470.0 1063.9,1485.5 1113.1,1503.3 1167.2,1524.7" stroke="#000" stroke-opacity="0.5" stroke-width="1.1"/>
<polyline points="144.3,1401.0 201.1,1408.9 258.0,1416.1 283.2,1419.1 314.8,1422.7 333.7,1424.8 355.4,1427.0 380.4,1429.4 409.5,1431.8 436.6,1433.8 467.8,1435.9 504.2,1438.2 547.3,1441.0 598.9,1444.7 628.8,1447.2 662.1,1450.3 699.2,1454.0 741.0,1458.6 788.3,1464.3 814.5,1467.7 842.5,1471.4 872.5,1475.5 904.9,1480.9 939.9,1486.7 977.8,1492.1 1019.0,1497.8 1063.9,1503.6 1113.1,1509.4 1167.2,1515.0" stroke="#c13b82" stroke-width="2.3" />
<polyline points="144.3,1219.0 201.1,1247.6 258.0,1278.7 283.2,1289.9 314.8,1303.4 333.7,1311.6 355.4,1318.4 380.4,1328.4 409.5,1336.6 436.6,1344.4 467.8,1352.6 504.2,1362.3 547.3,1371.7 598.9,1381.7 628.8,1386.8 662.1,1394.0 699.2,1400.0 741.0,1406.4 788.3,1413.8 814.5,1416.2 842.5,1420.8 872.5,1426.1 904.9,1432.5 939.9,1442.3 977.8,1453.2 1019.0,1466.0 1063.9,1482.4 1113.1,1501.3 1167.2,1524.0" stroke="#000" stroke-opacity="0.5" stroke-width="1.1"/>
<polyline points="144.3,1418.2 201.1,1425.8 258.0,1432.2 283.2,1434.6 314.8,1437.5 333.7,1439.1 355.4,1440.8 380.4,1442.6 409.5,1444.6 436.6,1446.2 467.8,1447.9 504.2,1449.8 547.3,1452.1 598.9,1455.1 628.8,1457.2 662.1,1459.8 699.2,1463.0 741.0,1467.0 788.3,1471.9 814.5,1474.8 842.5,1478.0 872.5,1481.6 904.9,1486.2 939.9,1491.3 977.8,1496.3 1019.0,1501.6 1063.9,1507.2 1113.1,1513.0 1167.2,1519.0" stroke="#b52f8c" stroke-width="2.3" />
<polyline points="144.3,1217.5 201.1,1247.4 258.0,1278.0 283.2,1289.3 314.8,1301.9 333.7,1309.6 355.4,1317.0 380.4,1326.2 409.5,1335.9 436.6,1343.5 467.8,1352.9 504.2,1361.4 547.3,1371.1 598.9,1380.5 628.8,1385.8 662.1,1392.7 699.2,1398.7 741.0,1404.6 788.3,1410.5 814.5,1413.4 842.5,1416.7 872.5,1421.5 904.9,1427.8 939.9,1437.4 977.8,1449.0 1019.0,1462.4 1063.9,1479.3 1113.1,1499.3 1167.2,1523.4" stroke="#000" stroke-opacity="0.5" stroke-width="1.1"/>
<polyline points="144.3,1433.4 201.1,1439.4 258.0,1444.6 283.2,1446.8 314.8,1449.2 333.7,1450.6 355.4,1452.2 380.4,1453.8 409.5,1455.6 436.6,1457.1 467.8,1458.8 504.2,1460.6 547.3,1462.8 598.9,1465.6 628.8,1467.4 662.1,1469.6 699.2,1472.1 741.0,1475.1 788.3,1478.8 814.5,1481.1 842.5,1483.6 872.5,1486.6 904.9,1490.7 939.9,1495.3 977.8,1499.9 1019.0,1504.7 1063.9,1509.9 1113.1,1515.3 1167.2,1521.0" stroke="#aa2395" stroke-width="2.3" />
<polyline points="144.3,1214.9 201.1,1243.9 258.0,1274.8 283.2,1287.1 314.8,1301.5 333.7,1308.7 355.4,1317.2 380.4,1326.0 409.5,1333.6 436.6,1342.7 467.8,1349.8 504.2,1360.1 547.3,1369.5 598.9,1379.0 628.8,1384.9 662.1,1391.2 699.2,1397.1 741.0,1402.1 788.3,1407.6 814.5,1410.2 842.5,1412.3 872.5,1416.8 904.9,1423.1 939.9,1433.5 977.8,1444.7 1019.0,1458.4 1063.9,1476.2 1113.1,1497.2 1167.2,1522.8" stroke="#000" stroke-opacity="0.5" stroke-width="1.1"/>
<polyline points="144.3,1448.1 201.1,1453.3 258.0,1457.9 283.2,1459.8 314.8,1462.1 333.7,1463.3 355.4,1464.7 380.4,1466.1 409.5,1467.4 436.6,1468.5 467.8,1469.6 504.2,1470.8 547.3,1472.2 598.9,1474.1 628.8,1475.4 662.1,1477.0 699.2,1478.9 741.0,1481.1 788.3,1484.0 814.5,1485.8 842.5,1488.0 872.5,1490.6 904.9,1494.6 939.9,1499.3 977.8,1503.6 1019.0,1508.2 1063.9,1512.9 1113.1,1517.7 1167.2,1522.5" stroke="#9c179e" stroke-width="2.3" />
<polyline points="144.3,1213.3 201.1,1242.4 258.0,1272.4 283.2,1286.5 314.8,1300.1 333.7,1308.1 355.4,1315.9 380.4,1325.5 409.5,1333.8 436.6,1340.1 467.8,1349.3 504.2,1358.6 547.3,1368.0 598.9,1377.6 628.8,1383.6 662.1,1389.4 699.2,1395.1 741.0,1399.7 788.3,1404.1 814.5,1407.1 842.5,1408.8 872.5,1412.2 904.9,1419.0 939.9,1428.5 977.8,1440.6 1019.0,1454.7 1063.9,1472.8 1113.1,1495.2 1167.2,1522.2" stroke="#000" stroke-opacity="0.5" stroke-width="1.1"/>
<polyline points="144.3,1463.3 201.1,1467.5 258.0,1471.1 283.2,1472.6 314.8,1474.3 333.7,1475.3 355.4,1476.3 380.4,1477.2 409.5,1478.0 436.6,1478.7 467.8,1479.3 504.2,1479.9 547.3,1480.6 598.9,1481.7 628.8,1482.5 662.1,1483.5 699.2,1484.9 741.0,1486.7 788.3,1489.1 814.5,1490.6 842.5,1492.4 872.5,1494.6 904.9,1498.3 939.9,1502.7 977.8,1506.7 1019.0,1510.9 1063.9,1515.2 1113.1,1519.6 1167.2,1524.0" stroke="#8d0ba5" stroke-width="2.3" />
<polyline points="144.3,1167.0 201.1,1182.0 258.0,1196.5 283.2,1204.3 314.8,1212.8 333.7,1221.0 355.4,1226.1 380.4,1234.6 409.5,1245.1 436.6,1253.5 467.8,1267.1 504.2,1280.2 547.3,1296.8 598.9,1313.0 628.8,1322.3 662.1,1332.1 699.2,1345.0 741.0,1358.0 788.3,1374.5 814.5,1383.2 842.5,1393.1 872.5,1403.6 904.9,1415.7 939.9,1428.3 977.8,1442.9 1019.0,1459.9 1063.9,1479.5 1113.1,1501.4 1167.2,1524.0" stroke="#000" stroke-opacity="0.5" stroke-width="1.1"/>
<polyline points="144.3,1475.0 201.1,1478.8 258.0,1482.0 283.2,1483.3 314.8,1484.9 333.7,1485.8 355.4,1486.6 380.4,1487.4 409.5,1488.1 436.6,1488.6 467.8,1489.1 504.2,1489.6 547.3,1490.2 598.9,1491.0 628.8,1491.6 662.1,1492.2 699.2,1493.0 741.0,1493.9 788.3,1495.2 814.5,1496.1 842.5,1497.2 872.5,1498.6 904.9,1501.9 939.9,1506.0 977.8,1509.6 1019.0,1513.3 1063.9,1517.2 1113.1,1521.2 1167.2,1525.0" stroke="#7e03a8" stroke-width="2.3" />
<polyline points="144.3,1160.8 201.1,1176.6 258.0,1190.8 283.2,1198.1 314.8,1207.1 333.7,1213.0 355.4,1217.9 380.4,1226.6 409.5,1233.8 436.6,1243.6 467.8,1256.4 504.2,1270.2 547.3,1285.2 598.9,1300.0 628.8,1310.1 662.1,1320.6 699.2,1331.8 741.0,1345.8 788.3,1362.9 814.5,1371.6 842.5,1382.2 872.5,1393.3 904.9,1406.0 939.9,1419.7 977.8,1435.3 1019.0,1453.3 1063.9,1474.2 1113.1,1498.4 1167.2,1523.6" stroke="#000" stroke-opacity="0.5" stroke-width="1.1"/>
<polyline points="144.3,1485.9 201.1,1489.3 258.0,1492.1 283.2,1493.2 314.8,1494.6 333.7,1495.3 355.4,1496.0 380.4,1496.6 409.5,1497.0 436.6,1497.2 467.8,1497.5 504.2,1497.8 547.3,1498.0 598.9,1498.4 628.8,1498.7 662.1,1499.1 699.2,1499.4 741.0,1499.9 788.3,1500.6 814.5,1501.0 842.5,1501.7 872.5,1502.5 904.9,1505.4 939.9,1509.3 977.8,1512.5 1019.0,1515.8 1063.9,1519.3 1113.1,1522.7 1167.2,1526.0" stroke="#6e00a8" stroke-width="2.3" />
<polyline points="144.3,1158.3 201.1,1167.5 258.0,1183.0 283.2,1189.1 314.8,1197.6 333.7,1204.6 355.4,1211.3 380.4,1217.0 409.5,1224.8 436.6,1234.1 467.8,1244.5 504.2,1257.4 547.3,1273.3 598.9,1287.9 628.8,1296.1 662.1,1307.5 699.2,1320.2 741.0,1333.9 788.3,1351.3 814.5,1360.8 842.5,1371.8 872.5,1383.1 904.9,1396.7 939.9,1410.6 977.8,1427.0 1019.0,1446.0 1063.9,1469.1 1113.1,1495.3 1167.2,1523.1" stroke="#000" stroke-opacity="0.5" stroke-width="1.1"/>
<polyline points="144.3,1496.0 201.1,1498.8 258.0,1501.2 283.2,1502.4 314.8,1503.9 333.7,1504.7 355.4,1505.4 380.4,1505.8 409.5,1505.8 436.6,1505.7 467.8,1505.5 504.2,1505.3 547.3,1505.0 598.9,1504.7 628.8,1504.7 662.1,1504.7 699.2,1504.8 741.0,1504.8 788.3,1505.0 814.5,1505.1 842.5,1505.3 872.5,1505.6 904.9,1508.5 939.9,1512.7 977.8,1515.7 1019.0,1518.8 1063.9,1521.9 1113.1,1524.7 1167.2,1527.0" stroke="#5c01a6" stroke-width="2.3" />
<polyline points="144.3,1151.0 201.1,1163.1 258.0,1177.1 283.2,1182.2 314.8,1190.4 333.7,1194.7 355.4,1201.0 380.4,1207.7 409.5,1217.3 436.6,1225.0 467.8,1234.6 504.2,1246.2 547.3,1260.2 598.9,1274.7 628.8,1284.8 662.1,1294.8 699.2,1306.8 741.0,1321.9 788.3,1339.4 814.5,1349.9 842.5,1360.3 872.5,1372.9 904.9,1386.2 939.9,1401.8 977.8,1419.0 1019.0,1439.5 1063.9,1463.7 1113.1,1492.3 1167.2,1522.6" stroke="#000" stroke-opacity="0.5" stroke-width="1.1"/>
<polyline points="144.3,1505.7 201.1,1507.3 258.0,1509.3 283.2,1510.5 314.8,1512.3 333.7,1513.4 355.4,1514.4 380.4,1514.9 409.5,1514.9 436.6,1514.8 467.8,1514.7 504.2,1514.6 547.3,1514.4 598.9,1514.1 628.8,1513.9 662.1,1513.5 699.2,1512.7 741.0,1511.7 788.3,1510.5 814.5,1510.0 842.5,1509.6 872.5,1509.5 904.9,1511.9 939.9,1515.3 977.8,1517.9 1019.0,1520.5 1063.9,1523.2 1113.1,1525.7 1167.2,1528.0" stroke="#4c02a1" stroke-width="2.3" />
<polyline points="144.3,1144.5 201.1,1157.9 258.0,1170.4 283.2,1175.9 314.8,1182.4 333.7,1188.6 355.4,1192.5 380.4,1199.9 409.5,1207.4 436.6,1214.5 467.8,1223.3 504.2,1235.1 547.3,1248.1 598.9,1262.8 628.8,1271.8 662.1,1283.3 699.2,1294.7 741.0,1309.7 788.3,1327.6 814.5,1337.8 842.5,1349.7 872.5,1362.6 904.9,1377.0 939.9,1392.8 977.8,1411.0 1019.0,1432.3 1063.9,1458.6 1113.1,1489.2 1167.2,1522.2" stroke="#000" stroke-opacity="0.5" stroke-width="1.1"/>
<polyline points="144.3,1514.7 201.1,1515.3 258.0,1516.4 283.2,1517.4 314.8,1519.2 333.7,1520.4 355.4,1521.4 380.4,1522.0 409.5,1522.0 436.6,1521.9 467.8,1521.9 504.2,1521.7 547.3,1521.5 598.9,1521.2 628.8,1521.0 662.1,1520.5 699.2,1519.6 741.0,1518.3 788.3,1516.9 814.5,1516.2 842.5,1515.8 872.5,1515.6 904.9,1516.5 939.9,1518.0 977.8,1519.5 1019.0,1521.3 1063.9,1523.4 1113.1,1525.9 1167.2,1529.0" stroke="#3a049a" stroke-width="2.3" />
<polyline points="144.3,1138.2 201.1,1150.4 258.0,1162.7 283.2,1168.3 314.8,1175.0 333.7,1179.5 355.4,1183.5 380.4,1189.2 409.5,1196.6 436.6,1203.4 467.8,1213.1 504.2,1222.9 547.3,1235.7 598.9,1250.1 628.8,1258.4 662.1,1269.5 699.2,1282.9 741.0,1297.7 788.3,1316.7 814.5,1327.8 842.5,1339.4 872.5,1352.0 904.9,1366.7 939.9,1384.0 977.8,1403.0 1019.0,1425.4 1063.9,1453.4 1113.1,1486.2 1167.2,1521.7" stroke="#000" stroke-opacity="0.5" stroke-width="1.1"/>
<polyline points="144.3,1523.3 201.1,1523.5 258.0,1524.0 283.2,1524.7 314.8,1526.0 333.7,1526.8 355.4,1527.7 380.4,1528.1 409.5,1528.1 436.6,1528.0 467.8,1527.7 504.2,1527.4 547.3,1527.0 598.9,1526.3 628.8,1526.0 662.1,1525.4 699.2,1524.4 741.0,1523.2 788.3,1521.8 814.5,1521.3 842.5,1520.8 872.5,1520.7 904.9,1520.7 939.9,1520.7 977.8,1521.0 1019.0,1522.0 1063.9,1523.8 1113.1,1526.4 1167.2,1530.0" stroke="#260591" stroke-width="2.3" />
<polyline points="144.3,1134.1 201.1,1145.8 258.0,1155.6 283.2,1159.5 314.8,1165.9 333.7,1169.5 355.4,1175.8 380.4,1179.7 409.5,1187.3 436.6,1195.1 467.8,1201.6 504.2,1211.8 547.3,1222.9 598.9,1237.6 628.8,1245.7 662.1,1256.7 699.2,1269.9 741.0,1285.2 788.3,1304.8 814.5,1316.2 842.5,1328.0 872.5,1342.1 904.9,1357.6 939.9,1375.0 977.8,1395.4 1019.0,1418.8 1063.9,1447.9 1113.1,1483.2 1167.2,1521.2" stroke="#000" stroke-opacity="0.5" stroke-width="1.1"/>
<polyline points="144.3,1531.1 201.1,1531.6 258.0,1532.6 283.2,1533.4 314.8,1534.9 333.7,1535.9 355.4,1536.7 380.4,1537.2 409.5,1537.1 436.6,1537.0 467.8,1536.7 504.2,1536.3 547.3,1535.6 598.9,1534.7 628.8,1534.1 662.1,1533.2 699.2,1531.8 741.0,1529.9 788.3,1527.7 814.5,1526.5 842.5,1525.5 872.5,1524.6 904.9,1523.8 939.9,1523.3 977.8,1523.5 1019.0,1524.1 1063.9,1525.4 1113.1,1527.6 1167.2,1531.0" stroke="#0d0887" stroke-width="2.3" />
<polyline points="144.3,1129.6 201.1,1138.7 258.0,1147.1 283.2,1152.3 314.8,1159.5 333.7,1162.7 355.4,1167.6 380.4,1172.7 409.5,1178.9 436.6,1184.8 467.8,1191.1 504.2,1199.6 547.3,1210.6 598.9,1225.0 628.8,1234.3 662.1,1244.3 699.2,1257.7 741.0,1273.1 788.3,1293.1 814.5,1304.6 842.5,1317.6 872.5,1332.2 904.9,1347.5 939.9,1365.7 977.8,1387.3 1019.0,1411.9 1063.9,1442.7 1113.1,1480.1 1167.2,1520.8" stroke="#000" stroke-opacity="0.5" stroke-width="1.1"/>
<polyline points="144.3,1271.0 201.1,1287.1 258.0,1302.6 283.2,1309.1 314.8,1317.0 333.7,1322.0 355.4,1328.1 380.4,1331.8 409.5,1336.8 436.6,1341.7 467.8,1347.7 504.2,1355.0 547.3,1363.7 598.9,1374.1 628.8,1379.9 662.1,1386.4 699.2,1393.8 741.0,1402.2 788.3,1411.3 814.5,1415.9 842.5,1420.5 872.5,1424.8 904.9,1428.5 939.9,1432.4 977.8,1438.0 1019.0,1442.0 1063.9,1451.0 1113.1,1461.0 1167.2,1467.0" stroke="#00ff00" stroke-width="5.4" stroke-dasharray="19.2 8.6"/>
<line x1="144.3" y1="1522.2" x2="1167.2" y2="1522.2" stroke="#000" stroke-width="5.5" stroke-dasharray="5.4 8.47"/>
</g>
<rect x="144.3" y="228.9" width="1022.9000000000001" height="817.4" fill="none" stroke="#000" stroke-width="2.1"/>
<rect x="144.3" y="1113.2" width="1022.9000000000001" height="779.0999999999999" fill="none" stroke="#000" stroke-width="2.1"/>
<line x1="144.30" y1="1046.30" x2="144.30" y2="1051.60" stroke="#000" stroke-width="2.0"/>
<line x1="144.30" y1="228.90" x2="144.30" y2="223.60" stroke="#000" stroke-width="2.0"/>
<line x1="201.13" y1="1046.30" x2="201.13" y2="1051.60" stroke="#000" stroke-width="2.0"/>
<line x1="201.13" y1="228.90" x2="201.13" y2="223.60" stroke="#000" stroke-width="2.0"/>
<line x1="257.96" y1="1046.30" x2="257.96" y2="1055.80" stroke="#000" stroke-width="2.0"/>
<line x1="257.96" y1="228.90" x2="257.96" y2="219.40" stroke="#000" stroke-width="2.0"/>
<line x1="314.78" y1="1046.30" x2="314.78" y2="1051.60" stroke="#000" stroke-width="2.0"/>
<line x1="314.78" y1="228.90" x2="314.78" y2="223.60" stroke="#000" stroke-width="2.0"/>
<line x1="371.61" y1="1046.30" x2="371.61" y2="1051.60" stroke="#000" stroke-width="2.0"/>
<line x1="371.61" y1="228.90" x2="371.61" y2="223.60" stroke="#000" stroke-width="2.0"/>
<line x1="428.44" y1="1046.30" x2="428.44" y2="1051.60" stroke="#000" stroke-width="2.0"/>
<line x1="428.44" y1="228.90" x2="428.44" y2="223.60" stroke="#000" stroke-width="2.0"/>
<line x1="485.27" y1="1046.30" x2="485.27" y2="1055.80" stroke="#000" stroke-width="2.0"/>
<line x1="485.27" y1="228.90" x2="485.27" y2="219.40" stroke="#000" stroke-width="2.0"/>
<line x1="542.09" y1="1046.30" x2="542.09" y2="1051.60" stroke="#000" stroke-width="2.0"/>
<line x1="542.09" y1="228.90" x2="542.09" y2="223.60" stroke="#000" stroke-width="2.0"/>
<line x1="598.92" y1="1046.30" x2="598.92" y2="1051.60" stroke="#000" stroke-width="2.0"/>
<line x1="598.92" y1="228.90" x2="598.92" y2="223.60" stroke="#000" stroke-width="2.0"/>
<line x1="655.75" y1="1046.30" x2="655.75" y2="1051.60" stroke="#000" stroke-width="2.0"/>
<line x1="655.75" y1="228.90" x2="655.75" y2="223.60" stroke="#000" stroke-width="2.0"/>
<line x1="712.58" y1="1046.30" x2="712.58" y2="1055.80" stroke="#000" stroke-width="2.0"/>
<line x1="712.58" y1="228.90" x2="712.58" y2="219.40" stroke="#000" stroke-width="2.0"/>
<line x1="769.41" y1="1046.30" x2="769.41" y2="1051.60" stroke="#000" stroke-width="2.0"/>
<line x1="769.41" y1="228.90" x2="769.41" y2="223.60" stroke="#000" stroke-width="2.0"/>
<line x1="826.23" y1="1046.30" x2="826.23" y2="1051.60" stroke="#000" stroke-width="2.0"/>
<line x1="826.23" y1="228.90" x2="826.23" y2="223.60" stroke="#000" stroke-width="2.0"/>
<line x1="883.06" y1="1046.30" x2="883.06" y2="1051.60" stroke="#000" stroke-width="2.0"/>
<line x1="883.06" y1="228.90" x2="883.06" y2="223.60" stroke="#000" stroke-width="2.0"/>
<line x1="939.89" y1="1046.30" x2="939.89" y2="1055.80" stroke="#000" stroke-width="2.0"/>
<line x1="939.89" y1="228.90" x2="939.89" y2="219.40" stroke="#000" stroke-width="2.0"/>
<line x1="996.72" y1="1046.30" x2="996.72" y2="1051.60" stroke="#000" stroke-width="2.0"/>
<line x1="996.72" y1="228.90" x2="996.72" y2="223.60" stroke="#000" stroke-width="2.0"/>
<line x1="1053.54" y1="1046.30" x2="1053.54" y2="1051.60" stroke="#000" stroke-width="2.0"/>
<line x1="1053.54" y1="228.90" x2="1053.54" y2="223.60" stroke="#000" stroke-width="2.0"/>
<line x1="1110.37" y1="1046.30" x2="1110.37" y2="1051.60" stroke="#000" stroke-width="2.0"/>
<line x1="1110.37" y1="228.90" x2="1110.37" y2="223.60" stroke="#000" stroke-width="2.0"/>
<line x1="1167.20" y1="1046.30" x2="1167.20" y2="1055.80" stroke="#000" stroke-width="2.0"/>
<line x1="1167.20" y1="228.90" x2="1167.20" y2="219.40" stroke="#000" stroke-width="2.0"/>
<line x1="144.30" y1="1892.30" x2="144.30" y2="1897.60" stroke="#000" stroke-width="2.0"/>
<line x1="144.30" y1="1113.20" x2="144.30" y2="1107.90" stroke="#000" stroke-width="2.0"/>
<line x1="201.13" y1="1892.30" x2="201.13" y2="1897.60" stroke="#000" stroke-width="2.0"/>
<line x1="201.13" y1="1113.20" x2="201.13" y2="1107.90" stroke="#000" stroke-width="2.0"/>
<line x1="257.96" y1="1892.30" x2="257.96" y2="1901.80" stroke="#000" stroke-width="2.0"/>
<line x1="257.96" y1="1113.20" x2="257.96" y2="1103.70" stroke="#000" stroke-width="2.0"/>
<line x1="314.78" y1="1892.30" x2="314.78" y2="1897.60" stroke="#000" stroke-width="2.0"/>
<line x1="314.78" y1="1113.20" x2="314.78" y2="1107.90" stroke="#000" stroke-width="2.0"/>
<line x1="371.61" y1="1892.30" x2="371.61" y2="1897.60" stroke="#000" stroke-width="2.0"/>
<line x1="371.61" y1="1113.20" x2="371.61" y2="1107.90" stroke="#000" stroke-width="2.0"/>
<line x1="428.44" y1="1892.30" x2="428.44" y2="1897.60" stroke="#000" stroke-width="2.0"/>
<line x1="428.44" y1="1113.20" x2="428.44" y2="1107.90" stroke="#000" stroke-width="2.0"/>
<line x1="485.27" y1="1892.30" x2="485.27" y2="1901.80" stroke="#000" stroke-width="2.0"/>
<line x1="485.27" y1="1113.20" x2="485.27" y2="1103.70" stroke="#000" stroke-width="2.0"/>
<line x1="542.09" y1="1892.30" x2="542.09" y2="1897.60" stroke="#000" stroke-width="2.0"/>
<line x1="542.09" y1="1113.20" x2="542.09" y2="1107.90" stroke="#000" stroke-width="2.0"/>
<line x1="598.92" y1="1892.30" x2="598.92" y2="1897.60" stroke="#000" stroke-width="2.0"/>
<line x1="598.92" y1="1113.20" x2="598.92" y2="1107.90" stroke="#000" stroke-width="2.0"/>
<line x1="655.75" y1="1892.30" x2="655.75" y2="1897.60" stroke="#000" stroke-width="2.0"/>
<line x1="655.75" y1="1113.20" x2="655.75" y2="1107.90" stroke="#000" stroke-width="2.0"/>
<line x1="712.58" y1="1892.30" x2="712.58" y2="1901.80" stroke="#000" stroke-width="2.0"/>
<line x1="712.58" y1="1113.20" x2="712.58" y2="1103.70" stroke="#000" stroke-width="2.0"/>
<line x1="769.41" y1="1892.30" x2="769.41" y2="1897.60" stroke="#000" stroke-width="2.0"/>
<line x1="769.41" y1="1113.20" x2="769.41" y2="1107.90" stroke="#000" stroke-width="2.0"/>
<line x1="826.23" y1="1892.30" x2="826.23" y2="1897.60" stroke="#000" stroke-width="2.0"/>
<line x1="826.23" y1="1113.20" x2="826.23" y2="1107.90" stroke="#000" stroke-width="2.0"/>
<line x1="883.06" y1="1892.30" x2="883.06" y2="1897.60" stroke="#000" stroke-width="2.0"/>
<line x1="883.06" y1="1113.20" x2="883.06" y2="1107.90" stroke="#000" stroke-width="2.0"/>
<line x1="939.89" y1="1892.30" x2="939.89" y2="1901.80" stroke="#000" stroke-width="2.0"/>
<line x1="939.89" y1="1113.20" x2="939.89" y2="1103.70" stroke="#000" stroke-width="2.0"/>
<line x1="996.72" y1="1892.30" x2="996.72" y2="1897.60" stroke="#000" stroke-width="2.0"/>
<line x1="996.72" y1="1113.20" x2="996.72" y2="1107.90" stroke="#000" stroke-width="2.0"/>
<line x1="1053.54" y1="1892.30" x2="1053.54" y2="1897.60" stroke="#000" stroke-width="2.0"/>
<line x1="1053.54" y1="1113.20" x2="1053.54" y2="1107.90" stroke="#000" stroke-width="2.0"/>
<line x1="1110.37" y1="1892.30" x2="1110.37" y2="1897.60" stroke="#000" stroke-width="2.0"/>
<line x1="1110.37" y1="1113.20" x2="1110.37" y2="1107.90" stroke="#000" stroke-width="2.0"/>
<line x1="1167.20" y1="1892.30" x2="1167.20" y2="1901.80" stroke="#000" stroke-width="2.0"/>
<line x1="1167.20" y1="1113.20" x2="1167.20" y2="1103.70" stroke="#000" stroke-width="2.0"/>
<line x1="144.30" y1="1046.30" x2="134.80" y2="1046.30" stroke="#000" stroke-width="2.0"/>
<line x1="1167.20" y1="1046.30" x2="1176.70" y2="1046.30" stroke="#000" stroke-width="2.0"/>
<text transform="translate(126.30,1064.30) scale(1.0,1.07)" font-size="47" text-anchor="end" font-family="Liberation Serif, serif"  fill="#000" stroke="#fff" stroke-width="0.66">0</text>
<line x1="144.30" y1="1019.05" x2="139.00" y2="1019.05" stroke="#000" stroke-width="2.0"/>
<line x1="1167.20" y1="1019.05" x2="1172.50" y2="1019.05" stroke="#000" stroke-width="2.0"/>
<line x1="144.30" y1="991.81" x2="139.00" y2="991.81" stroke="#000" stroke-width="2.0"/>
<line x1="1167.20" y1="991.81" x2="1172.50" y2="991.81" stroke="#000" stroke-width="2.0"/>
<line x1="144.30" y1="964.56" x2="139.00" y2="964.56" stroke="#000" stroke-width="2.0"/>
<line x1="1167.20" y1="964.56" x2="1172.50" y2="964.56" stroke="#000" stroke-width="2.0"/>
<line x1="144.30" y1="937.31" x2="139.00" y2="937.31" stroke="#000" stroke-width="2.0"/>
<line x1="1167.20" y1="937.31" x2="1172.50" y2="937.31" stroke="#000" stroke-width="2.0"/>
<line x1="144.30" y1="910.07" x2="134.80" y2="910.07" stroke="#000" stroke-width="2.0"/>
<line x1="1167.20" y1="910.07" x2="1176.70" y2="910.07" stroke="#000" stroke-width="2.0"/>
<text transform="translate(126.30,928.07) scale(1.0,1.07)" font-size="47" text-anchor="end" font-family="Liberation Serif, serif"  fill="#000" stroke="#fff" stroke-width="0.66">5</text>
<line x1="144.30" y1="882.82" x2="139.00" y2="882.82" stroke="#000" stroke-width="2.0"/>
<line x1="1167.20" y1="882.82" x2="1172.50" y2="882.82" stroke="#000" stroke-width="2.0"/>
<line x1="144.30" y1="855.57" x2="139.00" y2="855.57" stroke="#000" stroke-width="2.0"/>
<line x1="1167.20" y1="855.57" x2="1172.50" y2="855.57" stroke="#000" stroke-width="2.0"/>
<line x1="144.30" y1="828.33" x2="139.00" y2="828.33" stroke="#000" stroke-width="2.0"/>
<line x1="1167.20" y1="828.33" x2="1172.50" y2="828.33" stroke="#000" stroke-width="2.0"/>
<line x1="144.30" y1="801.08" x2="139.00" y2="801.08" stroke="#000" stroke-width="2.0"/>
<line x1="1167.20" y1="801.08" x2="1172.50" y2="801.08" stroke="#000" stroke-width="2.0"/>
<line x1="144.30" y1="773.83" x2="134.80" y2="773.83" stroke="#000" stroke-width="2.0"/>
<line x1="1167.20" y1="773.83" x2="1176.70" y2="773.83" stroke="#000" stroke-width="2.0"/>
<text transform="translate(126.30,791.83) scale(1.0,1.07)" font-size="47" text-anchor="end" font-family="Liberation Serif, serif"  fill="#000" stroke="#fff" stroke-width="0.66">10</text>
<line x1="144.30" y1="746.59" x2="139.00" y2="746.59" stroke="#000" stroke-width="2.0"/>
<line x1="1167.20" y1="746.59" x2="1172.50" y2="746.59" stroke="#000" stroke-width="2.0"/>
<line x1="144.30" y1="719.34" x2="139.00" y2="719.34" stroke="#000" stroke-width="2.0"/>
<line x1="1167.20" y1="719.34" x2="1172.50" y2="719.34" stroke="#000" stroke-width="2.0"/>
<line x1="144.30" y1="692.09" x2="139.00" y2="692.09" stroke="#000" stroke-width="2.0"/>
<line x1="1167.20" y1="692.09" x2="1172.50" y2="692.09" stroke="#000" stroke-width="2.0"/>
<line x1="144.30" y1="664.85" x2="139.00" y2="664.85" stroke="#000" stroke-width="2.0"/>
<line x1="1167.20" y1="664.85" x2="1172.50" y2="664.85" stroke="#000" stroke-width="2.0"/>
<line x1="144.30" y1="637.60" x2="134.80" y2="637.60" stroke="#000" stroke-width="2.0"/>
<line x1="1167.20" y1="637.60" x2="1176.70" y2="637.60" stroke="#000" stroke-width="2.0"/>
<text transform="translate(126.30,655.60) scale(1.0,1.07)" font-size="47" text-anchor="end" font-family="Liberation Serif, serif"  fill="#000" stroke="#fff" stroke-width="0.66">15</text>
<line x1="144.30" y1="610.35" x2="139.00" y2="610.35" stroke="#000" stroke-width="2.0"/>
<line x1="1167.20" y1="610.35" x2="1172.50" y2="610.35" stroke="#000" stroke-width="2.0"/>
<line x1="144.30" y1="583.11" x2="139.00" y2="583.11" stroke="#000" stroke-width="2.0"/>
<line x1="1167.20" y1="583.11" x2="1172.50" y2="583.11" stroke="#000" stroke-width="2.0"/>
<line x1="144.30" y1="555.86" x2="139.00" y2="555.86" stroke="#000" stroke-width="2.0"/>
<line x1="1167.20" y1="555.86" x2="1172.50" y2="555.86" stroke="#000" stroke-width="2.0"/>
<line x1="144.30" y1="528.61" x2="139.00" y2="528.61" stroke="#000" stroke-width="2.0"/>
<line x1="1167.20" y1="528.61" x2="1172.50" y2="528.61" stroke="#000" stroke-width="2.0"/>
<line x1="144.30" y1="501.37" x2="134.80" y2="501.37" stroke="#000" stroke-width="2.0"/>
<line x1="1167.20" y1="501.37" x2="1176.70" y2="501.37" stroke="#000" stroke-width="2.0"/>
<text transform="translate(126.30,519.37) scale(1.0,1.07)" font-size="47" text-anchor="end" font-family="Liberation Serif, serif"  fill="#000" stroke="#fff" stroke-width="0.66">20</text>
<line x1="144.30" y1="474.12" x2="139.00" y2="474.12" stroke="#000" stroke-width="2.0"/>
<line x1="1167.20" y1="474.12" x2="1172.50" y2="474.12" stroke="#000" stroke-width="2.0"/>
<line x1="144.30" y1="446.87" x2="139.00" y2="446.87" stroke="#000" stroke-width="2.0"/>
<line x1="1167.20" y1="446.87" x2="1172.50" y2="446.87" stroke="#000" stroke-width="2.0"/>
<line x1="144.30" y1="419.63" x2="139.00" y2="419.63" stroke="#000" stroke-width="2.0"/>
<line x1="1167.20" y1="419.63" x2="1172.50" y2="419.63" stroke="#000" stroke-width="2.0"/>
<line x1="144.30" y1="392.38" x2="139.00" y2="392.38" stroke="#000" stroke-width="2.0"/>
<line x1="1167.20" y1="392.38" x2="1172.50" y2="392.38" stroke="#000" stroke-width="2.0"/>
<line x1="144.30" y1="365.13" x2="134.80" y2="365.13" stroke="#000" stroke-width="2.0"/>
<line x1="1167.20" y1="365.13" x2="1176.70" y2="365.13" stroke="#000" stroke-width="2.0"/>
<text transform="translate(126.30,383.13) scale(1.0,1.07)" font-size="47" text-anchor="end" font-family="Liberation Serif, serif"  fill="#000" stroke="#fff" stroke-width="0.66">25</text>
<line x1="144.30" y1="337.89" x2="139.00" y2="337.89" stroke="#000" stroke-width="2.0"/>
<line x1="1167.20" y1="337.89" x2="1172.50" y2="337.89" stroke="#000" stroke-width="2.0"/>
<line x1="144.30" y1="310.64" x2="139.00" y2="310.64" stroke="#000" stroke-width="2.0"/>
<line x1="1167.20" y1="310.64" x2="1172.50" y2="310.64" stroke="#000" stroke-width="2.0"/>
<line x1="144.30" y1="283.39" x2="139.00" y2="283.39" stroke="#000" stroke-width="2.0"/>
<line x1="1167.20" y1="283.39" x2="1172.50" y2="283.39" stroke="#000" stroke-width="2.0"/>
<line x1="144.30" y1="256.15" x2="139.00" y2="256.15" stroke="#000" stroke-width="2.0"/>
<line x1="1167.20" y1="256.15" x2="1172.50" y2="256.15" stroke="#000" stroke-width="2.0"/>
<line x1="144.30" y1="228.90" x2="134.80" y2="228.90" stroke="#000" stroke-width="2.0"/>
<line x1="1167.20" y1="228.90" x2="1176.70" y2="228.90" stroke="#000" stroke-width="2.0"/>
<text transform="translate(126.30,246.90) scale(1.0,1.07)" font-size="47" text-anchor="end" font-family="Liberation Serif, serif"  fill="#000" stroke="#fff" stroke-width="0.66">30</text>
<line x1="144.30" y1="1892.30" x2="134.80" y2="1892.30" stroke="#000" stroke-width="2.0"/>
<line x1="1167.20" y1="1892.30" x2="1176.70" y2="1892.30" stroke="#000" stroke-width="2.0"/>
<text transform="translate(126.30,1910.30) scale(1.0,1.07)" font-size="47" text-anchor="end" font-family="Liberation Serif, serif"  fill="#000" stroke="#fff" stroke-width="0.66">0.0</text>
<line x1="144.30" y1="1853.35" x2="139.00" y2="1853.35" stroke="#000" stroke-width="2.0"/>
<line x1="1167.20" y1="1853.35" x2="1172.50" y2="1853.35" stroke="#000" stroke-width="2.0"/>
<line x1="144.30" y1="1814.39" x2="139.00" y2="1814.39" stroke="#000" stroke-width="2.0"/>
<line x1="1167.20" y1="1814.39" x2="1172.50" y2="1814.39" stroke="#000" stroke-width="2.0"/>
<line x1="144.30" y1="1775.43" x2="139.00" y2="1775.43" stroke="#000" stroke-width="2.0"/>
<line x1="1167.20" y1="1775.43" x2="1172.50" y2="1775.43" stroke="#000" stroke-width="2.0"/>
<line x1="144.30" y1="1736.48" x2="134.80" y2="1736.48" stroke="#000" stroke-width="2.0"/>
<line x1="1167.20" y1="1736.48" x2="1176.70" y2="1736.48" stroke="#000" stroke-width="2.0"/>
<text transform="translate(126.30,1754.48) scale(1.0,1.07)" font-size="47" text-anchor="end" font-family="Liberation Serif, serif"  fill="#000" stroke="#fff" stroke-width="0.66">0.2</text>
<line x1="144.30" y1="1697.53" x2="139.00" y2="1697.53" stroke="#000" stroke-width="2.0"/>
<line x1="1167.20" y1="1697.53" x2="1172.50" y2="1697.53" stroke="#000" stroke-width="2.0"/>
<line x1="144.30" y1="1658.57" x2="139.00" y2="1658.57" stroke="#000" stroke-width="2.0"/>
<line x1="1167.20" y1="1658.57" x2="1172.50" y2="1658.57" stroke="#000" stroke-width="2.0"/>
<line x1="144.30" y1="1619.62" x2="139.00" y2="1619.62" stroke="#000" stroke-width="2.0"/>
<line x1="1167.20" y1="1619.62" x2="1172.50" y2="1619.62" stroke="#000" stroke-width="2.0"/>
<line x1="144.30" y1="1580.66" x2="134.80" y2="1580.66" stroke="#000" stroke-width="2.0"/>
<line x1="1167.20" y1="1580.66" x2="1176.70" y2="1580.66" stroke="#000" stroke-width="2.0"/>
<text transform="translate(126.30,1598.66) scale(1.0,1.07)" font-size="47" text-anchor="end" font-family="Liberation Serif, serif"  fill="#000" stroke="#fff" stroke-width="0.66">0.4</text>
<line x1="144.30" y1="1541.70" x2="139.00" y2="1541.70" stroke="#000" stroke-width="2.0"/>
<line x1="1167.20" y1="1541.70" x2="1172.50" y2="1541.70" stroke="#000" stroke-width="2.0"/>
<line x1="144.30" y1="1502.75" x2="139.00" y2="1502.75" stroke="#000" stroke-width="2.0"/>
<line x1="1167.20" y1="1502.75" x2="1172.50" y2="1502.75" stroke="#000" stroke-width="2.0"/>
<line x1="144.30" y1="1463.80" x2="139.00" y2="1463.80" stroke="#000" stroke-width="2.0"/>
<line x1="1167.20" y1="1463.80" x2="1172.50" y2="1463.80" stroke="#000" stroke-width="2.0"/>
<line x1="144.30" y1="1424.84" x2="134.80" y2="1424.84" stroke="#000" stroke-width="2.0"/>
<line x1="1167.20" y1="1424.84" x2="1176.70" y2="1424.84" stroke="#000" stroke-width="2.0"/>
<text transform="translate(126.30,1442.84) scale(1.0,1.07)" font-size="47" text-anchor="end" font-family="Liberation Serif, serif"  fill="#000" stroke="#fff" stroke-width="0.66">0.6</text>
<line x1="144.30" y1="1385.88" x2="139.00" y2="1385.88" stroke="#000" stroke-width="2.0"/>
<line x1="1167.20" y1="1385.88" x2="1172.50" y2="1385.88" stroke="#000" stroke-width="2.0"/>
<line x1="144.30" y1="1346.93" x2="139.00" y2="1346.93" stroke="#000" stroke-width="2.0"/>
<line x1="1167.20" y1="1346.93" x2="1172.50" y2="1346.93" stroke="#000" stroke-width="2.0"/>
<line x1="144.30" y1="1307.97" x2="139.00" y2="1307.97" stroke="#000" stroke-width="2.0"/>
<line x1="1167.20" y1="1307.97" x2="1172.50" y2="1307.97" stroke="#000" stroke-width="2.0"/>
<line x1="144.30" y1="1269.02" x2="134.80" y2="1269.02" stroke="#000" stroke-width="2.0"/>
<line x1="1167.20" y1="1269.02" x2="1176.70" y2="1269.02" stroke="#000" stroke-width="2.0"/>
<text transform="translate(126.30,1287.02) scale(1.0,1.07)" font-size="47" text-anchor="end" font-family="Liberation Serif, serif"  fill="#000" stroke="#fff" stroke-width="0.66">0.8</text>
<line x1="144.30" y1="1230.07" x2="139.00" y2="1230.07" stroke="#000" stroke-width="2.0"/>
<line x1="1167.20" y1="1230.07" x2="1172.50" y2="1230.07" stroke="#000" stroke-width="2.0"/>
<line x1="144.30" y1="1191.11" x2="139.00" y2="1191.11" stroke="#000" stroke-width="2.0"/>
<line x1="1167.20" y1="1191.11" x2="1172.50" y2="1191.11" stroke="#000" stroke-width="2.0"/>
<line x1="144.30" y1="1152.15" x2="139.00" y2="1152.15" stroke="#000" stroke-width="2.0"/>
<line x1="1167.20" y1="1152.15" x2="1172.50" y2="1152.15" stroke="#000" stroke-width="2.0"/>
<line x1="144.30" y1="1113.20" x2="134.80" y2="1113.20" stroke="#000" stroke-width="2.0"/>
<line x1="1167.20" y1="1113.20" x2="1176.70" y2="1113.20" stroke="#000" stroke-width="2.0"/>
<text transform="translate(126.30,1131.20) scale(1.0,1.07)" font-size="47" text-anchor="end" font-family="Liberation Serif, serif"  fill="#000" stroke="#fff" stroke-width="0.66">1.0</text>
<text transform="translate(257.96,1945.50) scale(1.0,1.07)" font-size="47" text-anchor="middle" font-family="Liberation Serif, serif"  fill="#000" stroke="#fff" stroke-width="0.66">20</text>
<text transform="translate(485.27,1945.50) scale(1.0,1.07)" font-size="47" text-anchor="middle" font-family="Liberation Serif, serif"  fill="#000" stroke="#fff" stroke-width="0.66">40</text>
<text transform="translate(712.58,1945.50) scale(1.0,1.07)" font-size="47" text-anchor="middle" font-family="Liberation Serif, serif"  fill="#000" stroke="#fff" stroke-width="0.66">60</text>
<text transform="translate(939.89,1945.50) scale(1.0,1.07)" font-size="47" text-anchor="middle" font-family="Liberation Serif, serif"  fill="#000" stroke="#fff" stroke-width="0.66">80</text>
<text transform="translate(1167.20,1945.50) scale(1.0,1.07)" font-size="47" text-anchor="middle" font-family="Liberation Serif, serif"  fill="#000" stroke="#fff" stroke-width="0.66">100</text>
<text transform="translate(654.50,2008.00) scale(1.0,1.0)" font-size="57" text-anchor="middle" font-family="Liberation Serif, serif"  fill="#000" stroke="#fff" stroke-width="0.80">% of barred population</text>
<text transform="translate(56.40,637.50) rotate(-90) scale(0.965,1.0)" font-size="57" text-anchor="middle" font-family="Liberation Serif, serif"  fill="#000" stroke="#fff" stroke-width="0.80">Bar angle [deg]</text>
<text transform="translate(43.00,1501.00) rotate(-90) scale(1.061,1.0)" font-size="57" text-anchor="middle" font-family="Liberation Serif, serif"  fill="#000" stroke="#fff" stroke-width="0.80">b/a axis ratio</text>
<rect x="473.5" y="1683" width="364.7" height="188.7" rx="4" ry="4" fill="#fff" fill-opacity="0.8" stroke="#d9d9d9" stroke-width="1.4"/><line x1="486" y1="1711.5" x2="569.5" y2="1711.5" stroke="#f0f921" stroke-width="4.5"/><line x1="486" y1="1766.5" x2="569.5" y2="1766.5" stroke="#808080" stroke-width="4.5"/><line x1="488.3" y1="1827" x2="569.5" y2="1827" stroke="#00ff00" stroke-width="5.4" stroke-dasharray="19.2 8.6"/><text transform="translate(607.5,1725) scale(0.9873,1.0)" font-size="40" font-family="Liberation Serif, serif" fill="#000" stroke="#fff" stroke-width="0.56" text-anchor="start">Cone view</text><text transform="translate(607.5,1780) scale(0.9854,1.0)" font-size="40" font-family="Liberation Serif, serif" fill="#000" stroke="#fff" stroke-width="0.56" text-anchor="start">Full view</text><text transform="translate(607.5,1840.5) scale(0.9743,1.0)" font-size="40" font-family="Liberation Serif, serif" fill="#000" stroke="#fff" stroke-width="0.56" text-anchor="start">Selected</text><text transform="translate(757.5,1840.5) scale(1.0231,1.0)" font-size="40" font-family="Liberation Serif, serif" fill="#000" stroke="#fff" stroke-width="0.56" text-anchor="start" font-style="italic">R</text><text transform="translate(786.5,1825.7) scale(1.1093,1.0)" font-size="24" font-family="Liberation Serif, serif" fill="#000" stroke="#fff" stroke-width="0.34" text-anchor="start">lim</text><text transform="translate(785,1851.7) scale(1.1426,1.0)" font-size="24" font-family="Liberation Serif, serif" fill="#000" stroke="#fff" stroke-width="0.34" text-anchor="start">cyl</text>
</svg>
</body></html>
